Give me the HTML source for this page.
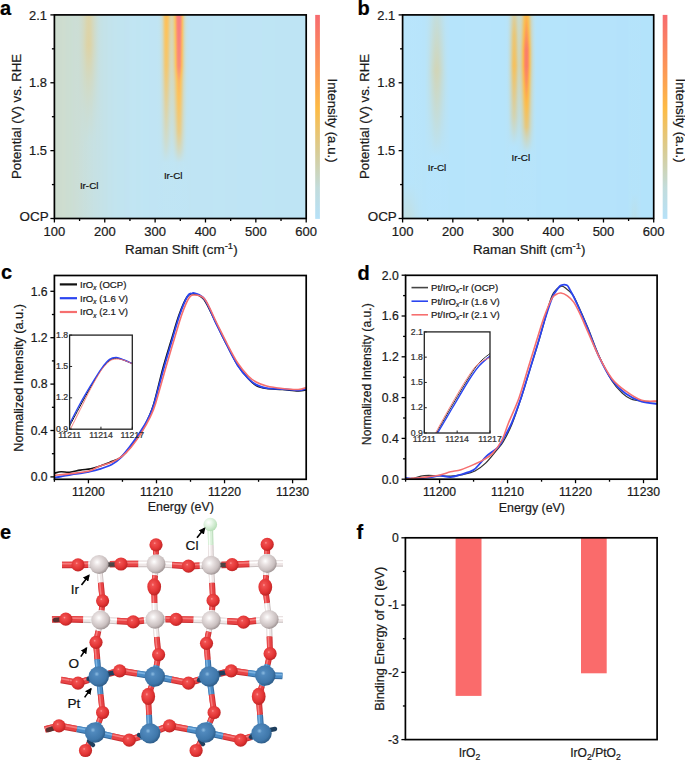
<!DOCTYPE html>
<html><head><meta charset="utf-8"><style>html,body{margin:0;padding:0;background:#fff;}svg{display:block;}text{stroke:#1a1a1a;stroke-width:0.22px;paint-order:stroke;}</style></head>
<body>
<svg width="685" height="761" viewBox="0 0 685 761" font-family="Liberation Sans, sans-serif">
<rect width="685" height="761" fill="#fff"/>
<defs><linearGradient id="g1" x1="0" y1="0" x2="0" y2="1"><stop offset="0.000" stop-color="#c5d9cf"/><stop offset="1.000" stop-color="#c4d9d1"/></linearGradient><linearGradient id="g2" x1="0" y1="0" x2="0" y2="1"><stop offset="0.000" stop-color="#c5d9cf"/><stop offset="1.000" stop-color="#c4dad1"/></linearGradient><linearGradient id="g3" x1="0" y1="0" x2="0" y2="1"><stop offset="0.000" stop-color="#c5d9ce"/><stop offset="1.000" stop-color="#c4dad2"/></linearGradient><linearGradient id="g4" x1="0" y1="0" x2="0" y2="1"><stop offset="0.000" stop-color="#c6d9cd"/><stop offset="0.375" stop-color="#c4d9d0"/><stop offset="1.000" stop-color="#c3dad3"/></linearGradient><linearGradient id="g5" x1="0" y1="0" x2="0" y2="1"><stop offset="0.000" stop-color="#c6d8ca"/><stop offset="0.250" stop-color="#c6d8cc"/><stop offset="0.725" stop-color="#c3dad4"/><stop offset="1.000" stop-color="#c3dad4"/></linearGradient><linearGradient id="g6" x1="0" y1="0" x2="0" y2="1"><stop offset="0.000" stop-color="#c8d7c7"/><stop offset="0.200" stop-color="#c7d7c8"/><stop offset="0.625" stop-color="#c3dad4"/><stop offset="1.000" stop-color="#c3dad4"/></linearGradient><linearGradient id="g7" x1="0" y1="0" x2="0" y2="1"><stop offset="0.000" stop-color="#c9d6c3"/><stop offset="0.175" stop-color="#c9d6c3"/><stop offset="0.575" stop-color="#c3dad4"/><stop offset="1.000" stop-color="#c2dad5"/></linearGradient><linearGradient id="g8" x1="0" y1="0" x2="0" y2="1"><stop offset="0.000" stop-color="#cbd5be"/><stop offset="0.175" stop-color="#cbd5be"/><stop offset="0.500" stop-color="#c4dad2"/><stop offset="0.675" stop-color="#c2dbd6"/><stop offset="1.000" stop-color="#c2dbd6"/></linearGradient><linearGradient id="g9" x1="0" y1="0" x2="0" y2="1"><stop offset="0.000" stop-color="#cdd4b9"/><stop offset="0.150" stop-color="#ced4b6"/><stop offset="0.475" stop-color="#c4d9d0"/><stop offset="0.650" stop-color="#c2dbd7"/><stop offset="1.000" stop-color="#c2dbd7"/></linearGradient><linearGradient id="g10" x1="0" y1="0" x2="0" y2="1"><stop offset="0.000" stop-color="#cfd3b3"/><stop offset="0.150" stop-color="#d1d2ae"/><stop offset="0.450" stop-color="#c5d9ce"/><stop offset="0.625" stop-color="#c1dbd8"/><stop offset="1.000" stop-color="#c1dbd8"/></linearGradient><linearGradient id="g11" x1="0" y1="0" x2="0" y2="1"><stop offset="0.000" stop-color="#d2d1ac"/><stop offset="0.150" stop-color="#d4d0a6"/><stop offset="0.325" stop-color="#cbd6c0"/><stop offset="0.475" stop-color="#c5d9cf"/><stop offset="0.625" stop-color="#c1dbd8"/><stop offset="1.000" stop-color="#c1dbd8"/></linearGradient><linearGradient id="g12" x1="0" y1="0" x2="0" y2="1"><stop offset="0.000" stop-color="#d4d0a6"/><stop offset="0.150" stop-color="#d7ce9f"/><stop offset="0.325" stop-color="#cbd5bd"/><stop offset="0.450" stop-color="#c6d9cc"/><stop offset="0.625" stop-color="#c1dbd9"/><stop offset="1.000" stop-color="#c1dbd9"/></linearGradient><linearGradient id="g13" x1="0" y1="0" x2="0" y2="1"><stop offset="0.000" stop-color="#d6cfa2"/><stop offset="0.150" stop-color="#d9cd9b"/><stop offset="0.325" stop-color="#ccd5bc"/><stop offset="0.450" stop-color="#c6d8cc"/><stop offset="0.625" stop-color="#c1dcda"/><stop offset="1.000" stop-color="#c1dcda"/></linearGradient><linearGradient id="g14" x1="0" y1="0" x2="0" y2="1"><stop offset="0.000" stop-color="#d6cfa0"/><stop offset="0.150" stop-color="#d9cd99"/><stop offset="0.300" stop-color="#cdd4b8"/><stop offset="0.425" stop-color="#c7d8ca"/><stop offset="0.600" stop-color="#c0dcdb"/><stop offset="1.000" stop-color="#c0dcdb"/></linearGradient><linearGradient id="g15" x1="0" y1="0" x2="0" y2="1"><stop offset="0.000" stop-color="#d6cfa2"/><stop offset="0.150" stop-color="#d8cd9b"/><stop offset="0.325" stop-color="#ccd5bd"/><stop offset="0.450" stop-color="#c5d9ce"/><stop offset="0.600" stop-color="#c0dcdc"/><stop offset="1.000" stop-color="#c0dcdc"/></linearGradient><linearGradient id="g16" x1="0" y1="0" x2="0" y2="1"><stop offset="0.000" stop-color="#d4d0a7"/><stop offset="0.150" stop-color="#d6cfa0"/><stop offset="0.300" stop-color="#ccd5bc"/><stop offset="0.450" stop-color="#c5d9cf"/><stop offset="0.625" stop-color="#c0dcdc"/><stop offset="1.000" stop-color="#c0dcdc"/></linearGradient><linearGradient id="g17" x1="0" y1="0" x2="0" y2="1"><stop offset="0.000" stop-color="#d1d2af"/><stop offset="0.150" stop-color="#d3d0a8"/><stop offset="0.375" stop-color="#c7d8c9"/><stop offset="0.625" stop-color="#bfdcdd"/><stop offset="1.000" stop-color="#bfdcdd"/></linearGradient><linearGradient id="g18" x1="0" y1="0" x2="0" y2="1"><stop offset="0.000" stop-color="#ced4b7"/><stop offset="0.150" stop-color="#d0d3b3"/><stop offset="0.450" stop-color="#c3dad3"/><stop offset="0.625" stop-color="#bfdcde"/><stop offset="1.000" stop-color="#bfdcde"/></linearGradient><linearGradient id="g19" x1="0" y1="0" x2="0" y2="1"><stop offset="0.000" stop-color="#cbd5be"/><stop offset="0.150" stop-color="#cdd4ba"/><stop offset="0.450" stop-color="#c2dbd6"/><stop offset="0.625" stop-color="#bfdddf"/><stop offset="1.000" stop-color="#bfdddf"/></linearGradient><linearGradient id="g20" x1="0" y1="0" x2="0" y2="1"><stop offset="0.000" stop-color="#c9d7c5"/><stop offset="0.175" stop-color="#c9d7c4"/><stop offset="0.475" stop-color="#c1dbd9"/><stop offset="0.650" stop-color="#bedde0"/><stop offset="1.000" stop-color="#bedde0"/></linearGradient><linearGradient id="g21" x1="0" y1="0" x2="0" y2="1"><stop offset="0.000" stop-color="#c6d8cb"/><stop offset="0.175" stop-color="#c6d8cb"/><stop offset="0.525" stop-color="#bfdcdd"/><stop offset="0.750" stop-color="#bedde0"/><stop offset="1.000" stop-color="#bedde0"/></linearGradient><linearGradient id="g22" x1="0" y1="0" x2="0" y2="1"><stop offset="0.000" stop-color="#c4dad1"/><stop offset="0.200" stop-color="#c4dad2"/><stop offset="0.600" stop-color="#bedde1"/><stop offset="1.000" stop-color="#bedde1"/></linearGradient><linearGradient id="g23" x1="0" y1="0" x2="0" y2="1"><stop offset="0.000" stop-color="#c2dbd6"/><stop offset="0.225" stop-color="#c1dbd8"/><stop offset="0.650" stop-color="#bedde2"/><stop offset="1.000" stop-color="#bedde2"/></linearGradient><linearGradient id="g24" x1="0" y1="0" x2="0" y2="1"><stop offset="0.000" stop-color="#c0dcdb"/><stop offset="0.275" stop-color="#c0dcdd"/><stop offset="0.750" stop-color="#bddde2"/><stop offset="1.000" stop-color="#bddde2"/></linearGradient><linearGradient id="g25" x1="0" y1="0" x2="0" y2="1"><stop offset="0.000" stop-color="#bfdcde"/><stop offset="0.975" stop-color="#bddee3"/><stop offset="1.000" stop-color="#bddee3"/></linearGradient><linearGradient id="g26" x1="0" y1="0" x2="0" y2="1"><stop offset="0.000" stop-color="#bedde1"/><stop offset="1.000" stop-color="#bddee4"/></linearGradient><linearGradient id="g27" x1="0" y1="0" x2="0" y2="1"><stop offset="0.000" stop-color="#bddde2"/><stop offset="1.000" stop-color="#bddee4"/></linearGradient><linearGradient id="g28" x1="0" y1="0" x2="0" y2="1"><stop offset="0.000" stop-color="#b8e1f1"/><stop offset="1.000" stop-color="#b7e1f2"/></linearGradient><linearGradient id="g29" x1="0" y1="0" x2="0" y2="1"><stop offset="0.000" stop-color="#b9e0ee"/><stop offset="1.000" stop-color="#b7e1f3"/></linearGradient><linearGradient id="g30" x1="0" y1="0" x2="0" y2="1"><stop offset="0.000" stop-color="#bbdfe9"/><stop offset="0.925" stop-color="#b7e1f3"/><stop offset="1.000" stop-color="#b7e1f3"/></linearGradient><linearGradient id="g31" x1="0" y1="0" x2="0" y2="1"><stop offset="0.000" stop-color="#bfdddf"/><stop offset="0.500" stop-color="#bbdfe9"/><stop offset="0.775" stop-color="#b7e1f3"/><stop offset="1.000" stop-color="#b7e1f3"/></linearGradient><linearGradient id="g32" x1="0" y1="0" x2="0" y2="1"><stop offset="0.000" stop-color="#c6d9cd"/><stop offset="0.325" stop-color="#c2dbd6"/><stop offset="0.650" stop-color="#badfea"/><stop offset="0.750" stop-color="#b7e1f3"/><stop offset="1.000" stop-color="#b7e1f3"/></linearGradient><linearGradient id="g33" x1="0" y1="0" x2="0" y2="1"><stop offset="0.000" stop-color="#d0d3b3"/><stop offset="0.275" stop-color="#cbd5bf"/><stop offset="0.625" stop-color="#bedde0"/><stop offset="0.725" stop-color="#b8e1f2"/><stop offset="1.000" stop-color="#b7e1f3"/></linearGradient><linearGradient id="g34" x1="0" y1="0" x2="0" y2="1"><stop offset="0.000" stop-color="#e1c885"/><stop offset="0.250" stop-color="#d9cd9a"/><stop offset="0.425" stop-color="#cdd4ba"/><stop offset="0.600" stop-color="#c3dad3"/><stop offset="0.700" stop-color="#badfea"/><stop offset="0.725" stop-color="#b8e1f1"/><stop offset="1.000" stop-color="#b7e1f3"/></linearGradient><linearGradient id="g35" x1="0" y1="0" x2="0" y2="1"><stop offset="0.000" stop-color="#f3bf5b"/><stop offset="0.250" stop-color="#e7c575"/><stop offset="0.500" stop-color="#cfd3b5"/><stop offset="0.600" stop-color="#c7d8c9"/><stop offset="0.675" stop-color="#bfddde"/><stop offset="0.725" stop-color="#b8e1f1"/><stop offset="1.000" stop-color="#b7e1f3"/></linearGradient><linearGradient id="g36" x1="0" y1="0" x2="0" y2="1"><stop offset="0.000" stop-color="#fdb747"/><stop offset="0.050" stop-color="#fdbb46"/><stop offset="0.250" stop-color="#f2c05e"/><stop offset="0.550" stop-color="#ced3b6"/><stop offset="0.650" stop-color="#c4dad2"/><stop offset="0.725" stop-color="#b8e1f1"/><stop offset="1.000" stop-color="#b7e1f3"/></linearGradient><linearGradient id="g37" x1="0" y1="0" x2="0" y2="1"><stop offset="0.000" stop-color="#fdb448"/><stop offset="0.075" stop-color="#fdbb45"/><stop offset="0.250" stop-color="#f3c05b"/><stop offset="0.650" stop-color="#c4dad2"/><stop offset="0.725" stop-color="#b8e1f1"/><stop offset="1.000" stop-color="#b7e1f3"/></linearGradient><linearGradient id="g38" x1="0" y1="0" x2="0" y2="1"><stop offset="0.000" stop-color="#fabc4c"/><stop offset="0.250" stop-color="#ecc36b"/><stop offset="0.525" stop-color="#ced4b6"/><stop offset="0.625" stop-color="#c5d9cf"/><stop offset="0.725" stop-color="#b8e1f1"/><stop offset="1.000" stop-color="#b7e1f3"/></linearGradient><linearGradient id="g39" x1="0" y1="0" x2="0" y2="1"><stop offset="0.000" stop-color="#edc269"/><stop offset="0.250" stop-color="#e1c885"/><stop offset="0.475" stop-color="#cdd4b8"/><stop offset="0.600" stop-color="#c4d9d0"/><stop offset="0.725" stop-color="#b8e1f1"/><stop offset="1.000" stop-color="#b7e1f3"/></linearGradient><linearGradient id="g40" x1="0" y1="0" x2="0" y2="1"><stop offset="0.000" stop-color="#e0c987"/><stop offset="0.275" stop-color="#d5d0a5"/><stop offset="0.625" stop-color="#c0dcdd"/><stop offset="0.725" stop-color="#b8e1f2"/><stop offset="1.000" stop-color="#b7e1f3"/></linearGradient><linearGradient id="g41" x1="0" y1="0" x2="0" y2="1"><stop offset="0.000" stop-color="#d8ce9c"/><stop offset="0.450" stop-color="#c7d8c9"/><stop offset="0.650" stop-color="#bcdee5"/><stop offset="0.725" stop-color="#b7e1f2"/><stop offset="1.000" stop-color="#b7e1f3"/></linearGradient><linearGradient id="g42" x1="0" y1="0" x2="0" y2="1"><stop offset="0.000" stop-color="#d6cfa2"/><stop offset="0.450" stop-color="#c6d8cc"/><stop offset="0.675" stop-color="#badfeb"/><stop offset="0.725" stop-color="#b7e1f2"/><stop offset="1.000" stop-color="#b7e1f3"/></linearGradient><linearGradient id="g43" x1="0" y1="0" x2="0" y2="1"><stop offset="0.000" stop-color="#d9cd98"/><stop offset="0.250" stop-color="#d0d2b1"/><stop offset="0.350" stop-color="#cbd5be"/><stop offset="0.600" stop-color="#c0dcdc"/><stop offset="0.725" stop-color="#b7e1f2"/><stop offset="1.000" stop-color="#b7e1f3"/></linearGradient><linearGradient id="g44" x1="0" y1="0" x2="0" y2="1"><stop offset="0.000" stop-color="#e3c77e"/><stop offset="0.250" stop-color="#d9cd9a"/><stop offset="0.325" stop-color="#d1d2b0"/><stop offset="0.600" stop-color="#c3dad5"/><stop offset="0.725" stop-color="#b8e1f2"/><stop offset="1.000" stop-color="#b7e1f3"/></linearGradient><linearGradient id="g45" x1="0" y1="0" x2="0" y2="1"><stop offset="0.000" stop-color="#f5bf56"/><stop offset="0.250" stop-color="#e7c576"/><stop offset="0.325" stop-color="#dacc96"/><stop offset="0.525" stop-color="#ccd5bb"/><stop offset="0.600" stop-color="#c7d8c9"/><stop offset="0.675" stop-color="#bfdddf"/><stop offset="0.725" stop-color="#b8e1f1"/><stop offset="1.000" stop-color="#b7e1f3"/></linearGradient><linearGradient id="g46" x1="0" y1="0" x2="0" y2="1"><stop offset="0.000" stop-color="#fca450"/><stop offset="0.225" stop-color="#fcbb46"/><stop offset="0.250" stop-color="#fbbc4a"/><stop offset="0.325" stop-color="#e8c575"/><stop offset="0.500" stop-color="#d7ce9e"/><stop offset="0.600" stop-color="#ccd5bb"/><stop offset="0.650" stop-color="#c6d8cb"/><stop offset="0.725" stop-color="#b8e1f0"/><stop offset="0.875" stop-color="#b7e1f3"/><stop offset="1.000" stop-color="#b7e1f3"/></linearGradient><linearGradient id="g47" x1="0" y1="0" x2="0" y2="1"><stop offset="0.000" stop-color="#fa8261"/><stop offset="0.250" stop-color="#fc9e53"/><stop offset="0.300" stop-color="#fdb946"/><stop offset="0.325" stop-color="#f6be54"/><stop offset="0.575" stop-color="#d9cd99"/><stop offset="0.625" stop-color="#ced3b6"/><stop offset="0.650" stop-color="#cad6c0"/><stop offset="0.725" stop-color="#b8e0f0"/><stop offset="0.775" stop-color="#b7e1f3"/><stop offset="1.000" stop-color="#b7e1f3"/></linearGradient><linearGradient id="g48" x1="0" y1="0" x2="0" y2="1"><stop offset="0.000" stop-color="#f76d6e"/><stop offset="0.250" stop-color="#fa855f"/><stop offset="0.325" stop-color="#fdb249"/><stop offset="0.375" stop-color="#fcbb47"/><stop offset="0.575" stop-color="#e1c884"/><stop offset="0.675" stop-color="#c8d7c7"/><stop offset="0.725" stop-color="#b9e0ef"/><stop offset="0.775" stop-color="#b7e1f3"/><stop offset="1.000" stop-color="#b7e1f3"/></linearGradient><linearGradient id="g49" x1="0" y1="0" x2="0" y2="1"><stop offset="0.000" stop-color="#f76b6f"/><stop offset="0.100" stop-color="#f76c6e"/><stop offset="0.250" stop-color="#f97b65"/><stop offset="0.275" stop-color="#fb885d"/><stop offset="0.325" stop-color="#fca94e"/><stop offset="0.400" stop-color="#fdb946"/><stop offset="0.475" stop-color="#f4bf59"/><stop offset="0.575" stop-color="#e6c679"/><stop offset="0.675" stop-color="#c9d6c4"/><stop offset="0.725" stop-color="#b9e0ef"/><stop offset="0.750" stop-color="#b7e1f3"/><stop offset="1.000" stop-color="#b7e1f3"/></linearGradient><linearGradient id="g50" x1="0" y1="0" x2="0" y2="1"><stop offset="0.000" stop-color="#f76b6f"/><stop offset="0.075" stop-color="#f76e6d"/><stop offset="0.250" stop-color="#f97e63"/><stop offset="0.275" stop-color="#fb8b5b"/><stop offset="0.325" stop-color="#fcac4c"/><stop offset="0.400" stop-color="#fcbb47"/><stop offset="0.575" stop-color="#e5c67b"/><stop offset="0.675" stop-color="#c9d7c4"/><stop offset="0.725" stop-color="#b9e0ef"/><stop offset="0.750" stop-color="#b7e1f3"/><stop offset="1.000" stop-color="#b7e1f3"/></linearGradient><linearGradient id="g51" x1="0" y1="0" x2="0" y2="1"><stop offset="0.000" stop-color="#f97867"/><stop offset="0.250" stop-color="#fb8f5a"/><stop offset="0.300" stop-color="#fdaf4b"/><stop offset="0.325" stop-color="#fcbc48"/><stop offset="0.575" stop-color="#dfca8a"/><stop offset="0.675" stop-color="#c7d8c8"/><stop offset="0.725" stop-color="#b9e0ef"/><stop offset="0.775" stop-color="#b7e1f3"/><stop offset="1.000" stop-color="#b7e1f3"/></linearGradient><linearGradient id="g52" x1="0" y1="0" x2="0" y2="1"><stop offset="0.000" stop-color="#fc9955"/><stop offset="0.250" stop-color="#fdb14a"/><stop offset="0.275" stop-color="#fbbc4a"/><stop offset="0.325" stop-color="#ecc36c"/><stop offset="0.575" stop-color="#d6cfa3"/><stop offset="0.625" stop-color="#cdd4ba"/><stop offset="0.650" stop-color="#c9d6c3"/><stop offset="0.725" stop-color="#b8e0f0"/><stop offset="0.775" stop-color="#b7e1f3"/><stop offset="1.000" stop-color="#b7e1f3"/></linearGradient><linearGradient id="g53" x1="0" y1="0" x2="0" y2="1"><stop offset="0.000" stop-color="#f6be54"/><stop offset="0.250" stop-color="#ebc36e"/><stop offset="0.325" stop-color="#dacc96"/><stop offset="0.550" stop-color="#ced4b8"/><stop offset="0.600" stop-color="#cad6c2"/><stop offset="0.650" stop-color="#c5d9cf"/><stop offset="0.725" stop-color="#b8e1f0"/><stop offset="0.900" stop-color="#b7e1f3"/><stop offset="1.000" stop-color="#b7e1f3"/></linearGradient><linearGradient id="g54" x1="0" y1="0" x2="0" y2="1"><stop offset="0.000" stop-color="#dccb90"/><stop offset="0.250" stop-color="#d6cfa2"/><stop offset="0.300" stop-color="#cfd3b5"/><stop offset="0.350" stop-color="#ccd5bc"/><stop offset="0.575" stop-color="#c5d9cd"/><stop offset="0.675" stop-color="#bedde1"/><stop offset="0.725" stop-color="#b8e1f1"/><stop offset="1.000" stop-color="#b7e1f3"/></linearGradient><linearGradient id="g55" x1="0" y1="0" x2="0" y2="1"><stop offset="0.000" stop-color="#ccd5bd"/><stop offset="0.250" stop-color="#c9d7c5"/><stop offset="0.350" stop-color="#c4dad1"/><stop offset="0.600" stop-color="#bfddde"/><stop offset="0.700" stop-color="#b9e0ed"/><stop offset="0.750" stop-color="#b7e1f3"/><stop offset="1.000" stop-color="#b7e1f3"/></linearGradient><linearGradient id="g56" x1="0" y1="0" x2="0" y2="1"><stop offset="0.000" stop-color="#c3dad5"/><stop offset="0.275" stop-color="#c0dcdb"/><stop offset="0.450" stop-color="#bddde2"/><stop offset="0.650" stop-color="#badfea"/><stop offset="0.750" stop-color="#b7e1f3"/><stop offset="1.000" stop-color="#b7e1f3"/></linearGradient><linearGradient id="g57" x1="0" y1="0" x2="0" y2="1"><stop offset="0.000" stop-color="#bddee3"/><stop offset="0.625" stop-color="#b9e0ee"/><stop offset="0.800" stop-color="#b7e1f3"/><stop offset="1.000" stop-color="#b7e1f3"/></linearGradient><linearGradient id="g58" x1="0" y1="0" x2="0" y2="1"><stop offset="0.000" stop-color="#badfeb"/><stop offset="1.000" stop-color="#b7e1f3"/></linearGradient><linearGradient id="g59" x1="0" y1="0" x2="0" y2="1"><stop offset="0.000" stop-color="#b8e0f0"/><stop offset="1.000" stop-color="#b7e1f3"/></linearGradient></defs>
<rect x="54.40" y="14.90" width="1.30" height="203.60" fill="#c7d8c8"/><rect x="55.40" y="14.90" width="1.30" height="203.60" fill="#c7d8c8"/><rect x="56.40" y="14.90" width="1.30" height="203.60" fill="#c7d8c8"/><rect x="57.40" y="14.90" width="1.30" height="203.60" fill="#c7d8c8"/><rect x="58.40" y="14.90" width="1.30" height="203.60" fill="#c7d8c9"/><rect x="59.40" y="14.90" width="1.30" height="203.60" fill="#c7d8c9"/><rect x="60.40" y="14.90" width="1.30" height="203.60" fill="#c7d8c9"/><rect x="61.39" y="14.90" width="1.30" height="203.60" fill="#c7d8c9"/><rect x="62.39" y="14.90" width="1.30" height="203.60" fill="#c7d8ca"/><rect x="63.39" y="14.90" width="1.30" height="203.60" fill="#c7d8ca"/><rect x="64.39" y="14.90" width="1.30" height="203.60" fill="#c7d8ca"/><rect x="65.39" y="14.90" width="1.30" height="203.60" fill="#c6d8cb"/><rect x="66.39" y="14.90" width="1.30" height="203.60" fill="#c6d8cb"/><rect x="67.39" y="14.90" width="1.30" height="203.60" fill="#c6d8cc"/><rect x="68.39" y="14.90" width="1.30" height="203.60" fill="#c6d8cc"/><rect x="69.39" y="14.90" width="1.30" height="203.60" fill="#c6d9cd"/><rect x="70.39" y="14.90" width="1.30" height="203.60" fill="#c5d9cd"/><rect x="71.39" y="14.90" width="1.30" height="203.60" fill="#c5d9ce"/><rect x="72.39" y="14.90" width="1.30" height="203.60" fill="#c5d9ce"/><rect x="73.38" y="14.90" width="1.30" height="203.60" fill="#c5d9cf"/><rect x="74.38" y="14.90" width="1.30" height="203.60" fill="#c5d9cf"/><rect x="75.38" y="14.90" width="1.30" height="203.60" fill="url(#g1)"/><rect x="76.38" y="14.90" width="1.30" height="203.60" fill="url(#g2)"/><rect x="77.38" y="14.90" width="1.30" height="203.60" fill="url(#g3)"/><rect x="78.38" y="14.90" width="1.30" height="203.60" fill="url(#g4)"/><rect x="79.38" y="14.90" width="1.30" height="203.60" fill="url(#g5)"/><rect x="80.38" y="14.90" width="1.30" height="203.60" fill="url(#g6)"/><rect x="81.38" y="14.90" width="1.30" height="203.60" fill="url(#g7)"/><rect x="82.38" y="14.90" width="1.30" height="203.60" fill="url(#g8)"/><rect x="83.38" y="14.90" width="1.30" height="203.60" fill="url(#g9)"/><rect x="84.38" y="14.90" width="1.30" height="203.60" fill="url(#g10)"/><rect x="85.38" y="14.90" width="1.30" height="203.60" fill="url(#g11)"/><rect x="86.37" y="14.90" width="1.30" height="203.60" fill="url(#g12)"/><rect x="87.37" y="14.90" width="1.30" height="203.60" fill="url(#g13)"/><rect x="88.37" y="14.90" width="1.30" height="203.60" fill="url(#g14)"/><rect x="89.37" y="14.90" width="1.30" height="203.60" fill="url(#g15)"/><rect x="90.37" y="14.90" width="1.30" height="203.60" fill="url(#g16)"/><rect x="91.37" y="14.90" width="1.30" height="203.60" fill="url(#g17)"/><rect x="92.37" y="14.90" width="1.30" height="203.60" fill="url(#g18)"/><rect x="93.37" y="14.90" width="1.30" height="203.60" fill="url(#g19)"/><rect x="94.37" y="14.90" width="1.30" height="203.60" fill="url(#g20)"/><rect x="95.37" y="14.90" width="1.30" height="203.60" fill="url(#g21)"/><rect x="96.37" y="14.90" width="1.30" height="203.60" fill="url(#g22)"/><rect x="97.37" y="14.90" width="1.30" height="203.60" fill="url(#g23)"/><rect x="98.37" y="14.90" width="1.30" height="203.60" fill="url(#g24)"/><rect x="99.36" y="14.90" width="1.30" height="203.60" fill="url(#g25)"/><rect x="100.36" y="14.90" width="1.30" height="203.60" fill="url(#g26)"/><rect x="101.36" y="14.90" width="1.30" height="203.60" fill="url(#g27)"/><rect x="102.36" y="14.90" width="1.30" height="203.60" fill="#bddee4"/><rect x="103.36" y="14.90" width="1.30" height="203.60" fill="#bcdee5"/><rect x="104.36" y="14.90" width="1.30" height="203.60" fill="#bcdee6"/><rect x="105.36" y="14.90" width="1.30" height="203.60" fill="#bcdee7"/><rect x="106.36" y="14.90" width="1.30" height="203.60" fill="#bbdfe7"/><rect x="107.36" y="14.90" width="1.30" height="203.60" fill="#bbdfe8"/><rect x="108.36" y="14.90" width="1.30" height="203.60" fill="#bbdfe9"/><rect x="109.36" y="14.90" width="1.30" height="203.60" fill="#bbdfe9"/><rect x="110.36" y="14.90" width="1.30" height="203.60" fill="#bbdfea"/><rect x="111.35" y="14.90" width="1.30" height="203.60" fill="#badfea"/><rect x="112.35" y="14.90" width="1.30" height="203.60" fill="#badfeb"/><rect x="113.35" y="14.90" width="1.30" height="203.60" fill="#badfeb"/><rect x="114.35" y="14.90" width="1.30" height="203.60" fill="#bae0ec"/><rect x="115.35" y="14.90" width="1.30" height="203.60" fill="#bae0ec"/><rect x="116.35" y="14.90" width="1.30" height="203.60" fill="#bae0ec"/><rect x="117.35" y="14.90" width="1.30" height="203.60" fill="#b9e0ed"/><rect x="118.35" y="14.90" width="1.30" height="203.60" fill="#b9e0ed"/><rect x="119.35" y="14.90" width="1.30" height="203.60" fill="#b9e0ed"/><rect x="120.35" y="14.90" width="1.30" height="203.60" fill="#b9e0ee"/><rect x="121.35" y="14.90" width="1.30" height="203.60" fill="#b9e0ee"/><rect x="122.35" y="14.90" width="1.30" height="203.60" fill="#b9e0ee"/><rect x="123.35" y="14.90" width="1.30" height="203.60" fill="#b9e0ef"/><rect x="124.34" y="14.90" width="1.30" height="203.60" fill="#b9e0ef"/><rect x="125.34" y="14.90" width="1.30" height="203.60" fill="#b9e0ef"/><rect x="126.34" y="14.90" width="1.30" height="203.60" fill="#b8e0ef"/><rect x="127.34" y="14.90" width="1.30" height="203.60" fill="#b8e0f0"/><rect x="128.34" y="14.90" width="1.30" height="203.60" fill="#b8e0f0"/><rect x="129.34" y="14.90" width="1.30" height="203.60" fill="#b8e1f0"/><rect x="130.34" y="14.90" width="1.30" height="203.60" fill="#b8e1f0"/><rect x="131.34" y="14.90" width="1.30" height="203.60" fill="#b8e1f0"/><rect x="132.34" y="14.90" width="1.30" height="203.60" fill="#b8e1f1"/><rect x="133.34" y="14.90" width="1.30" height="203.60" fill="#b8e1f1"/><rect x="134.34" y="14.90" width="1.30" height="203.60" fill="#b8e1f1"/><rect x="135.34" y="14.90" width="1.30" height="203.60" fill="#b8e1f1"/><rect x="136.33" y="14.90" width="1.30" height="203.60" fill="#b8e1f1"/><rect x="137.33" y="14.90" width="1.30" height="203.60" fill="#b8e1f1"/><rect x="138.33" y="14.90" width="1.30" height="203.60" fill="#b8e1f1"/><rect x="139.33" y="14.90" width="1.30" height="203.60" fill="#b8e1f1"/><rect x="140.33" y="14.90" width="1.30" height="203.60" fill="#b8e1f2"/><rect x="141.33" y="14.90" width="1.30" height="203.60" fill="#b8e1f2"/><rect x="142.33" y="14.90" width="1.30" height="203.60" fill="#b8e1f2"/><rect x="143.33" y="14.90" width="1.30" height="203.60" fill="#b7e1f2"/><rect x="144.33" y="14.90" width="1.30" height="203.60" fill="#b7e1f2"/><rect x="145.33" y="14.90" width="1.30" height="203.60" fill="#b7e1f2"/><rect x="146.33" y="14.90" width="1.30" height="203.60" fill="#b7e1f2"/><rect x="147.33" y="14.90" width="1.30" height="203.60" fill="#b7e1f2"/><rect x="148.33" y="14.90" width="1.30" height="203.60" fill="#b7e1f2"/><rect x="149.32" y="14.90" width="1.30" height="203.60" fill="#b7e1f2"/><rect x="150.32" y="14.90" width="1.30" height="203.60" fill="#b7e1f2"/><rect x="151.32" y="14.90" width="1.30" height="203.60" fill="#b7e1f2"/><rect x="152.32" y="14.90" width="1.30" height="203.60" fill="#b7e1f2"/><rect x="153.32" y="14.90" width="1.30" height="203.60" fill="#b7e1f2"/><rect x="154.32" y="14.90" width="1.30" height="203.60" fill="#b7e1f2"/><rect x="155.32" y="14.90" width="1.30" height="203.60" fill="#b7e1f2"/><rect x="156.32" y="14.90" width="1.30" height="203.60" fill="#b8e1f2"/><rect x="157.32" y="14.90" width="1.30" height="203.60" fill="url(#g28)"/><rect x="158.32" y="14.90" width="1.30" height="203.60" fill="url(#g29)"/><rect x="159.32" y="14.90" width="1.30" height="203.60" fill="url(#g30)"/><rect x="160.32" y="14.90" width="1.30" height="203.60" fill="url(#g31)"/><rect x="161.32" y="14.90" width="1.30" height="203.60" fill="url(#g32)"/><rect x="162.31" y="14.90" width="1.30" height="203.60" fill="url(#g33)"/><rect x="163.31" y="14.90" width="1.30" height="203.60" fill="url(#g34)"/><rect x="164.31" y="14.90" width="1.30" height="203.60" fill="url(#g35)"/><rect x="165.31" y="14.90" width="1.30" height="203.60" fill="url(#g36)"/><rect x="166.31" y="14.90" width="1.30" height="203.60" fill="url(#g37)"/><rect x="167.31" y="14.90" width="1.30" height="203.60" fill="url(#g38)"/><rect x="168.31" y="14.90" width="1.30" height="203.60" fill="url(#g39)"/><rect x="169.31" y="14.90" width="1.30" height="203.60" fill="url(#g40)"/><rect x="170.31" y="14.90" width="1.30" height="203.60" fill="url(#g41)"/><rect x="171.31" y="14.90" width="1.30" height="203.60" fill="url(#g42)"/><rect x="172.31" y="14.90" width="1.30" height="203.60" fill="url(#g43)"/><rect x="173.31" y="14.90" width="1.30" height="203.60" fill="url(#g44)"/><rect x="174.30" y="14.90" width="1.30" height="203.60" fill="url(#g45)"/><rect x="175.30" y="14.90" width="1.30" height="203.60" fill="url(#g46)"/><rect x="176.30" y="14.90" width="1.30" height="203.60" fill="url(#g47)"/><rect x="177.30" y="14.90" width="1.30" height="203.60" fill="url(#g48)"/><rect x="178.30" y="14.90" width="1.30" height="203.60" fill="url(#g49)"/><rect x="179.30" y="14.90" width="1.30" height="203.60" fill="url(#g50)"/><rect x="180.30" y="14.90" width="1.30" height="203.60" fill="url(#g51)"/><rect x="181.30" y="14.90" width="1.30" height="203.60" fill="url(#g52)"/><rect x="182.30" y="14.90" width="1.30" height="203.60" fill="url(#g53)"/><rect x="183.30" y="14.90" width="1.30" height="203.60" fill="url(#g54)"/><rect x="184.30" y="14.90" width="1.30" height="203.60" fill="url(#g55)"/><rect x="185.30" y="14.90" width="1.30" height="203.60" fill="url(#g56)"/><rect x="186.30" y="14.90" width="1.30" height="203.60" fill="url(#g57)"/><rect x="187.29" y="14.90" width="1.30" height="203.60" fill="url(#g58)"/><rect x="188.29" y="14.90" width="1.30" height="203.60" fill="url(#g59)"/><rect x="189.29" y="14.90" width="1.30" height="203.60" fill="#b8e1f1"/><rect x="190.29" y="14.90" width="1.30" height="203.60" fill="#b7e1f2"/><rect x="191.29" y="14.90" width="1.30" height="203.60" fill="#b7e1f3"/><rect x="192.29" y="14.90" width="1.30" height="203.60" fill="#b7e1f3"/><rect x="193.29" y="14.90" width="1.30" height="203.60" fill="#b7e1f3"/><rect x="194.29" y="14.90" width="1.30" height="203.60" fill="#b7e1f3"/><rect x="195.29" y="14.90" width="1.30" height="203.60" fill="#b7e1f3"/><rect x="196.29" y="14.90" width="1.30" height="203.60" fill="#b7e1f3"/><rect x="197.29" y="14.90" width="1.30" height="203.60" fill="#b7e1f3"/><rect x="198.29" y="14.90" width="1.30" height="203.60" fill="#b7e1f3"/><rect x="199.28" y="14.90" width="1.30" height="203.60" fill="#b7e1f3"/><rect x="200.28" y="14.90" width="1.30" height="203.60" fill="#b7e1f3"/><rect x="201.28" y="14.90" width="1.30" height="203.60" fill="#b7e1f3"/><rect x="202.28" y="14.90" width="1.30" height="203.60" fill="#b7e1f3"/><rect x="203.28" y="14.90" width="1.30" height="203.60" fill="#b7e1f3"/><rect x="204.28" y="14.90" width="1.30" height="203.60" fill="#b7e1f3"/><rect x="205.28" y="14.90" width="1.30" height="203.60" fill="#b7e1f3"/><rect x="206.28" y="14.90" width="1.30" height="203.60" fill="#b7e1f3"/><rect x="207.28" y="14.90" width="1.30" height="203.60" fill="#b7e1f3"/><rect x="208.28" y="14.90" width="1.30" height="203.60" fill="#b7e1f3"/><rect x="209.28" y="14.90" width="1.30" height="203.60" fill="#b7e1f3"/><rect x="210.28" y="14.90" width="1.30" height="203.60" fill="#b7e1f3"/><rect x="211.28" y="14.90" width="1.30" height="203.60" fill="#b7e1f3"/><rect x="212.27" y="14.90" width="1.30" height="203.60" fill="#b7e1f3"/><rect x="213.27" y="14.90" width="1.30" height="203.60" fill="#b7e1f3"/><rect x="214.27" y="14.90" width="1.30" height="203.60" fill="#b7e1f3"/><rect x="215.27" y="14.90" width="1.30" height="203.60" fill="#b7e1f3"/><rect x="216.27" y="14.90" width="1.30" height="203.60" fill="#b7e1f3"/><rect x="217.27" y="14.90" width="1.30" height="203.60" fill="#b7e1f3"/><rect x="218.27" y="14.90" width="1.30" height="203.60" fill="#b7e1f3"/><rect x="219.27" y="14.90" width="1.30" height="203.60" fill="#b7e1f3"/><rect x="220.27" y="14.90" width="1.30" height="203.60" fill="#b7e1f3"/><rect x="221.27" y="14.90" width="1.30" height="203.60" fill="#b7e1f3"/><rect x="222.27" y="14.90" width="1.30" height="203.60" fill="#b7e1f3"/><rect x="223.27" y="14.90" width="1.30" height="203.60" fill="#b7e1f3"/><rect x="224.27" y="14.90" width="1.30" height="203.60" fill="#b7e1f3"/><rect x="225.26" y="14.90" width="1.30" height="203.60" fill="#b7e1f3"/><rect x="226.26" y="14.90" width="1.30" height="203.60" fill="#b7e1f3"/><rect x="227.26" y="14.90" width="1.30" height="203.60" fill="#b7e1f3"/><rect x="228.26" y="14.90" width="1.30" height="203.60" fill="#b7e1f3"/><rect x="229.26" y="14.90" width="1.30" height="203.60" fill="#b7e1f3"/><rect x="230.26" y="14.90" width="1.30" height="203.60" fill="#b7e1f3"/><rect x="231.26" y="14.90" width="1.30" height="203.60" fill="#b7e1f3"/><rect x="232.26" y="14.90" width="1.30" height="203.60" fill="#b7e1f3"/><rect x="233.26" y="14.90" width="1.30" height="203.60" fill="#b7e1f3"/><rect x="234.26" y="14.90" width="1.30" height="203.60" fill="#b7e1f3"/><rect x="235.26" y="14.90" width="1.30" height="203.60" fill="#b7e1f3"/><rect x="236.26" y="14.90" width="1.30" height="203.60" fill="#b7e1f3"/><rect x="237.25" y="14.90" width="1.30" height="203.60" fill="#b7e1f3"/><rect x="238.25" y="14.90" width="1.30" height="203.60" fill="#b7e1f3"/><rect x="239.25" y="14.90" width="1.30" height="203.60" fill="#b7e1f3"/><rect x="240.25" y="14.90" width="1.30" height="203.60" fill="#b7e1f3"/><rect x="241.25" y="14.90" width="1.30" height="203.60" fill="#b7e1f3"/><rect x="242.25" y="14.90" width="1.30" height="203.60" fill="#b7e1f3"/><rect x="243.25" y="14.90" width="1.30" height="203.60" fill="#b7e1f3"/><rect x="244.25" y="14.90" width="1.30" height="203.60" fill="#b7e1f3"/><rect x="245.25" y="14.90" width="1.30" height="203.60" fill="#b7e1f3"/><rect x="246.25" y="14.90" width="1.30" height="203.60" fill="#b7e1f3"/><rect x="247.25" y="14.90" width="1.30" height="203.60" fill="#b7e1f3"/><rect x="248.25" y="14.90" width="1.30" height="203.60" fill="#b7e1f3"/><rect x="249.25" y="14.90" width="1.30" height="203.60" fill="#b7e1f3"/><rect x="250.24" y="14.90" width="1.30" height="203.60" fill="#b7e1f3"/><rect x="251.24" y="14.90" width="1.30" height="203.60" fill="#b7e1f3"/><rect x="252.24" y="14.90" width="1.30" height="203.60" fill="#b7e1f3"/><rect x="253.24" y="14.90" width="1.30" height="203.60" fill="#b7e1f3"/><rect x="254.24" y="14.90" width="1.30" height="203.60" fill="#b7e1f3"/><rect x="255.24" y="14.90" width="1.30" height="203.60" fill="#b7e1f3"/><rect x="256.24" y="14.90" width="1.30" height="203.60" fill="#b7e1f3"/><rect x="257.24" y="14.90" width="1.30" height="203.60" fill="#b7e1f3"/><rect x="258.24" y="14.90" width="1.30" height="203.60" fill="#b7e1f3"/><rect x="259.24" y="14.90" width="1.30" height="203.60" fill="#b7e1f3"/><rect x="260.24" y="14.90" width="1.30" height="203.60" fill="#b7e1f3"/><rect x="261.24" y="14.90" width="1.30" height="203.60" fill="#b7e1f3"/><rect x="262.23" y="14.90" width="1.30" height="203.60" fill="#b7e1f3"/><rect x="263.23" y="14.90" width="1.30" height="203.60" fill="#b7e1f3"/><rect x="264.23" y="14.90" width="1.30" height="203.60" fill="#b7e1f3"/><rect x="265.23" y="14.90" width="1.30" height="203.60" fill="#b7e1f3"/><rect x="266.23" y="14.90" width="1.30" height="203.60" fill="#b7e1f3"/><rect x="267.23" y="14.90" width="1.30" height="203.60" fill="#b7e1f3"/><rect x="268.23" y="14.90" width="1.30" height="203.60" fill="#b7e1f3"/><rect x="269.23" y="14.90" width="1.30" height="203.60" fill="#b7e1f3"/><rect x="270.23" y="14.90" width="1.30" height="203.60" fill="#b7e1f3"/><rect x="271.23" y="14.90" width="1.30" height="203.60" fill="#b7e1f3"/><rect x="272.23" y="14.90" width="1.30" height="203.60" fill="#b7e1f3"/><rect x="273.23" y="14.90" width="1.30" height="203.60" fill="#b7e1f3"/><rect x="274.23" y="14.90" width="1.30" height="203.60" fill="#b7e1f3"/><rect x="275.22" y="14.90" width="1.30" height="203.60" fill="#b7e1f3"/><rect x="276.22" y="14.90" width="1.30" height="203.60" fill="#b7e1f3"/><rect x="277.22" y="14.90" width="1.30" height="203.60" fill="#b7e1f3"/><rect x="278.22" y="14.90" width="1.30" height="203.60" fill="#b7e1f3"/><rect x="279.22" y="14.90" width="1.30" height="203.60" fill="#b7e1f3"/><rect x="280.22" y="14.90" width="1.30" height="203.60" fill="#b7e1f3"/><rect x="281.22" y="14.90" width="1.30" height="203.60" fill="#b7e1f3"/><rect x="282.22" y="14.90" width="1.30" height="203.60" fill="#b7e1f3"/><rect x="283.22" y="14.90" width="1.30" height="203.60" fill="#b7e1f3"/><rect x="284.22" y="14.90" width="1.30" height="203.60" fill="#b7e1f3"/><rect x="285.22" y="14.90" width="1.30" height="203.60" fill="#b7e1f3"/><rect x="286.22" y="14.90" width="1.30" height="203.60" fill="#b7e1f3"/><rect x="287.22" y="14.90" width="1.30" height="203.60" fill="#b7e1f3"/><rect x="288.21" y="14.90" width="1.30" height="203.60" fill="#b7e1f3"/><rect x="289.21" y="14.90" width="1.30" height="203.60" fill="#b7e1f3"/><rect x="290.21" y="14.90" width="1.30" height="203.60" fill="#b7e1f3"/><rect x="291.21" y="14.90" width="1.30" height="203.60" fill="#b7e1f3"/><rect x="292.21" y="14.90" width="1.30" height="203.60" fill="#b7e1f3"/><rect x="293.21" y="14.90" width="1.30" height="203.60" fill="#b7e1f3"/><rect x="294.21" y="14.90" width="1.30" height="203.60" fill="#b7e1f3"/><rect x="295.21" y="14.90" width="1.30" height="203.60" fill="#b7e1f3"/><rect x="296.21" y="14.90" width="1.30" height="203.60" fill="#b7e1f3"/><rect x="297.21" y="14.90" width="1.30" height="203.60" fill="#b7e1f3"/><rect x="298.21" y="14.90" width="1.30" height="203.60" fill="#b7e1f3"/><rect x="299.21" y="14.90" width="1.30" height="203.60" fill="#b7e1f3"/><rect x="300.20" y="14.90" width="1.30" height="203.60" fill="#b7e1f3"/><rect x="301.20" y="14.90" width="1.30" height="203.60" fill="#b7e1f3"/><rect x="302.20" y="14.90" width="1.30" height="203.60" fill="#b7e1f3"/><rect x="303.20" y="14.90" width="1.30" height="203.60" fill="#b7e1f3"/><rect x="304.20" y="14.90" width="1.30" height="203.60" fill="#b7e1f3"/><rect x="305.20" y="14.90" width="1.30" height="203.60" fill="#b7e1f3"/>
<text x="79.9" y="188.7" font-size="9.8" text-anchor="start" fill="#111" >Ir-Cl</text>
<text x="163.9" y="178.6" font-size="9.8" text-anchor="start" fill="#111" >Ir-Cl</text>
<rect x="54.40" y="14.90" width="251.80" height="203.60" fill="none" stroke="#000" stroke-width="1.7"/>
<line x1="50.40" y1="14.90" x2="54.40" y2="14.90" stroke="#000" stroke-width="1.3" />
<line x1="51.90" y1="48.83" x2="54.40" y2="48.83" stroke="#000" stroke-width="1.3" />
<line x1="50.40" y1="82.77" x2="54.40" y2="82.77" stroke="#000" stroke-width="1.3" />
<line x1="51.90" y1="116.70" x2="54.40" y2="116.70" stroke="#000" stroke-width="1.3" />
<line x1="50.40" y1="150.63" x2="54.40" y2="150.63" stroke="#000" stroke-width="1.3" />
<line x1="51.90" y1="184.57" x2="54.40" y2="184.57" stroke="#000" stroke-width="1.3" />
<line x1="50.40" y1="218.50" x2="54.40" y2="218.50" stroke="#000" stroke-width="1.3" />
<text x="47.0" y="19.5" font-size="12.9" text-anchor="end" fill="#1a1a1a" >2.1</text>
<text x="47.0" y="87.4" font-size="12.9" text-anchor="end" fill="#1a1a1a" >1.8</text>
<text x="47.0" y="155.2" font-size="12.9" text-anchor="end" fill="#1a1a1a" >1.5</text>
<text x="48.6" y="221.1" font-size="13.4" text-anchor="end" fill="#1a1a1a" >OCP</text>
<line x1="54.40" y1="218.50" x2="54.40" y2="222.50" stroke="#000" stroke-width="1.3" />
<line x1="79.58" y1="218.50" x2="79.58" y2="221.00" stroke="#000" stroke-width="1.3" />
<line x1="104.76" y1="218.50" x2="104.76" y2="222.50" stroke="#000" stroke-width="1.3" />
<line x1="129.94" y1="218.50" x2="129.94" y2="221.00" stroke="#000" stroke-width="1.3" />
<line x1="155.12" y1="218.50" x2="155.12" y2="222.50" stroke="#000" stroke-width="1.3" />
<line x1="180.30" y1="218.50" x2="180.30" y2="221.00" stroke="#000" stroke-width="1.3" />
<line x1="205.48" y1="218.50" x2="205.48" y2="222.50" stroke="#000" stroke-width="1.3" />
<line x1="230.66" y1="218.50" x2="230.66" y2="221.00" stroke="#000" stroke-width="1.3" />
<line x1="255.84" y1="218.50" x2="255.84" y2="222.50" stroke="#000" stroke-width="1.3" />
<line x1="281.02" y1="218.50" x2="281.02" y2="221.00" stroke="#000" stroke-width="1.3" />
<line x1="306.20" y1="218.50" x2="306.20" y2="222.50" stroke="#000" stroke-width="1.3" />
<text x="54.4" y="236.2" font-size="13" text-anchor="middle" fill="#1a1a1a" >100</text>
<text x="104.8" y="236.2" font-size="13" text-anchor="middle" fill="#1a1a1a" >200</text>
<text x="155.1" y="236.2" font-size="13" text-anchor="middle" fill="#1a1a1a" >300</text>
<text x="205.5" y="236.2" font-size="13" text-anchor="middle" fill="#1a1a1a" >400</text>
<text x="255.8" y="236.2" font-size="13" text-anchor="middle" fill="#1a1a1a" >500</text>
<text x="306.2" y="236.2" font-size="13" text-anchor="middle" fill="#1a1a1a" >600</text>
<text x="181.3" y="253.5" font-size="13.4" text-anchor="middle" fill="#1a1a1a">Raman Shift (cm<tspan font-size="9.5" dy="-5">-1</tspan><tspan dy="5">)</tspan></text>
<text transform="translate(20.9,116.4) rotate(-90)" font-size="13.25" text-anchor="middle" fill="#1a1a1a">Potential (V) vs. RHE</text>
<defs><linearGradient id="cba" x1="0" y1="0" x2="0" y2="1"><stop offset="0.000" stop-color="#f76b6f"/><stop offset="0.250" stop-color="#fc9458"/><stop offset="0.460" stop-color="#fdbb45"/><stop offset="0.670" stop-color="#d8cc95"/><stop offset="0.850" stop-color="#c2dcdc"/><stop offset="1.000" stop-color="#b6e1f8"/></linearGradient></defs>
<rect x="315.2" y="14.9" width="4.7" height="204.0" fill="url(#cba)"/>
<text transform="translate(328.1,120.6) rotate(90)" font-size="13.3" text-anchor="middle" fill="#1a1a1a">Intensity (a.u.)</text>
<text x="0.0" y="14.6" font-size="20" font-weight="bold" text-anchor="start" fill="#000" >a</text>
<defs><linearGradient id="g60" x1="0" y1="0" x2="0" y2="1"><stop offset="0.000" stop-color="#b4e3fb"/><stop offset="0.825" stop-color="#b4e3fa"/><stop offset="0.975" stop-color="#bbdfe9"/><stop offset="1.000" stop-color="#bbdfe8"/></linearGradient><linearGradient id="g61" x1="0" y1="0" x2="0" y2="1"><stop offset="0.000" stop-color="#b4e3fb"/><stop offset="0.825" stop-color="#b4e3fa"/><stop offset="0.975" stop-color="#bcdee7"/><stop offset="1.000" stop-color="#bcdee6"/></linearGradient><linearGradient id="g62" x1="0" y1="0" x2="0" y2="1"><stop offset="0.000" stop-color="#b4e3fb"/><stop offset="0.825" stop-color="#b4e3fa"/><stop offset="0.975" stop-color="#bcdee6"/><stop offset="1.000" stop-color="#bcdee5"/></linearGradient><linearGradient id="g63" x1="0" y1="0" x2="0" y2="1"><stop offset="0.000" stop-color="#b4e3fb"/><stop offset="0.825" stop-color="#b4e3fa"/><stop offset="0.975" stop-color="#bcdee5"/><stop offset="1.000" stop-color="#bddee4"/></linearGradient><linearGradient id="g64" x1="0" y1="0" x2="0" y2="1"><stop offset="0.000" stop-color="#b4e3fb"/><stop offset="0.825" stop-color="#b4e3fa"/><stop offset="0.975" stop-color="#bddee4"/><stop offset="1.000" stop-color="#bddee3"/></linearGradient><linearGradient id="g65" x1="0" y1="0" x2="0" y2="1"><stop offset="0.000" stop-color="#b4e3fb"/><stop offset="0.825" stop-color="#b4e3fa"/><stop offset="0.975" stop-color="#bddee4"/><stop offset="1.000" stop-color="#bddee3"/></linearGradient><linearGradient id="g66" x1="0" y1="0" x2="0" y2="1"><stop offset="0.000" stop-color="#b4e3fb"/><stop offset="0.825" stop-color="#b4e3fa"/><stop offset="0.975" stop-color="#bcdee5"/><stop offset="1.000" stop-color="#bddee4"/></linearGradient><linearGradient id="g67" x1="0" y1="0" x2="0" y2="1"><stop offset="0.000" stop-color="#b4e3fb"/><stop offset="0.825" stop-color="#b4e3fa"/><stop offset="0.975" stop-color="#bcdee6"/><stop offset="1.000" stop-color="#bcdee5"/></linearGradient><linearGradient id="g68" x1="0" y1="0" x2="0" y2="1"><stop offset="0.000" stop-color="#b4e3fb"/><stop offset="0.825" stop-color="#b4e3fa"/><stop offset="0.975" stop-color="#bcdee7"/><stop offset="1.000" stop-color="#bcdee6"/></linearGradient><linearGradient id="g69" x1="0" y1="0" x2="0" y2="1"><stop offset="0.000" stop-color="#b4e3fb"/><stop offset="0.825" stop-color="#b4e3fa"/><stop offset="0.975" stop-color="#bbdfe8"/><stop offset="1.000" stop-color="#bbdfe8"/></linearGradient><linearGradient id="g70" x1="0" y1="0" x2="0" y2="1"><stop offset="0.000" stop-color="#b4e3fb"/><stop offset="0.825" stop-color="#b4e3fa"/><stop offset="0.975" stop-color="#badfea"/><stop offset="1.000" stop-color="#bbdfe9"/></linearGradient><linearGradient id="g71" x1="0" y1="0" x2="0" y2="1"><stop offset="0.000" stop-color="#b4e3fb"/><stop offset="0.825" stop-color="#b4e3fa"/><stop offset="1.000" stop-color="#badfeb"/></linearGradient><linearGradient id="g72" x1="0" y1="0" x2="0" y2="1"><stop offset="0.000" stop-color="#b4e3fb"/><stop offset="0.850" stop-color="#b5e3f9"/><stop offset="1.000" stop-color="#b9e0ed"/></linearGradient><linearGradient id="g73" x1="0" y1="0" x2="0" y2="1"><stop offset="0.000" stop-color="#b4e3fb"/><stop offset="0.850" stop-color="#b5e3f9"/><stop offset="1.000" stop-color="#b8e0ef"/></linearGradient><linearGradient id="g74" x1="0" y1="0" x2="0" y2="1"><stop offset="0.000" stop-color="#b4e3fb"/><stop offset="0.850" stop-color="#b5e3f9"/><stop offset="1.000" stop-color="#b8e1f1"/></linearGradient><linearGradient id="g75" x1="0" y1="0" x2="0" y2="1"><stop offset="0.000" stop-color="#b4e3fb"/><stop offset="0.850" stop-color="#b4e3fa"/><stop offset="1.000" stop-color="#b7e1f3"/></linearGradient><linearGradient id="g76" x1="0" y1="0" x2="0" y2="1"><stop offset="0.000" stop-color="#b4e3fb"/><stop offset="0.875" stop-color="#b5e3f9"/><stop offset="1.000" stop-color="#b6e2f5"/></linearGradient><linearGradient id="g77" x1="0" y1="0" x2="0" y2="1"><stop offset="0.000" stop-color="#b4e3fb"/><stop offset="0.875" stop-color="#b5e3f9"/><stop offset="1.000" stop-color="#b6e2f6"/></linearGradient><linearGradient id="g78" x1="0" y1="0" x2="0" y2="1"><stop offset="0.000" stop-color="#b4e3fb"/><stop offset="0.900" stop-color="#b5e3f9"/><stop offset="1.000" stop-color="#b5e2f7"/></linearGradient><linearGradient id="g79" x1="0" y1="0" x2="0" y2="1"><stop offset="0.000" stop-color="#b4e3fb"/><stop offset="0.925" stop-color="#b5e3f9"/><stop offset="1.000" stop-color="#b5e2f8"/></linearGradient><linearGradient id="g80" x1="0" y1="0" x2="0" y2="1"><stop offset="0.000" stop-color="#b5e2f8"/><stop offset="0.350" stop-color="#b6e2f5"/><stop offset="0.850" stop-color="#b4e3fb"/><stop offset="1.000" stop-color="#b4e3fa"/></linearGradient><linearGradient id="g81" x1="0" y1="0" x2="0" y2="1"><stop offset="0.000" stop-color="#b6e2f6"/><stop offset="0.325" stop-color="#b8e1f1"/><stop offset="0.775" stop-color="#b4e3fb"/><stop offset="1.000" stop-color="#b4e3fa"/></linearGradient><linearGradient id="g82" x1="0" y1="0" x2="0" y2="1"><stop offset="0.000" stop-color="#b7e1f4"/><stop offset="0.300" stop-color="#bae0ec"/><stop offset="0.750" stop-color="#b4e3fb"/><stop offset="1.000" stop-color="#b4e3fb"/></linearGradient><linearGradient id="g83" x1="0" y1="0" x2="0" y2="1"><stop offset="0.000" stop-color="#b8e1f2"/><stop offset="0.300" stop-color="#bcdee6"/><stop offset="0.725" stop-color="#b4e3fb"/><stop offset="1.000" stop-color="#b4e3fb"/></linearGradient><linearGradient id="g84" x1="0" y1="0" x2="0" y2="1"><stop offset="0.000" stop-color="#b9e0ee"/><stop offset="0.275" stop-color="#bfddde"/><stop offset="0.725" stop-color="#b4e3fb"/><stop offset="1.000" stop-color="#b4e3fb"/></linearGradient><linearGradient id="g85" x1="0" y1="0" x2="0" y2="1"><stop offset="0.000" stop-color="#badfeb"/><stop offset="0.275" stop-color="#c2dbd6"/><stop offset="0.700" stop-color="#b4e3fb"/><stop offset="1.000" stop-color="#b4e3fb"/></linearGradient><linearGradient id="g86" x1="0" y1="0" x2="0" y2="1"><stop offset="0.000" stop-color="#bcdfe7"/><stop offset="0.275" stop-color="#c5d9cd"/><stop offset="0.650" stop-color="#b6e2f5"/><stop offset="0.700" stop-color="#b4e3fb"/><stop offset="1.000" stop-color="#b4e3fb"/></linearGradient><linearGradient id="g87" x1="0" y1="0" x2="0" y2="1"><stop offset="0.000" stop-color="#bddee3"/><stop offset="0.275" stop-color="#c8d7c5"/><stop offset="0.625" stop-color="#b8e1f0"/><stop offset="0.700" stop-color="#b4e3fb"/><stop offset="1.000" stop-color="#b4e3fb"/></linearGradient><linearGradient id="g88" x1="0" y1="0" x2="0" y2="1"><stop offset="0.000" stop-color="#bedde0"/><stop offset="0.275" stop-color="#cbd5be"/><stop offset="0.625" stop-color="#b9e0ef"/><stop offset="0.700" stop-color="#b4e3fb"/><stop offset="1.000" stop-color="#b4e3fb"/></linearGradient><linearGradient id="g89" x1="0" y1="0" x2="0" y2="1"><stop offset="0.000" stop-color="#bfdcde"/><stop offset="0.250" stop-color="#ccd5bb"/><stop offset="0.275" stop-color="#cdd4b8"/><stop offset="0.600" stop-color="#bbdfe9"/><stop offset="0.700" stop-color="#b4e3fb"/><stop offset="1.000" stop-color="#b4e3fb"/></linearGradient><linearGradient id="g90" x1="0" y1="0" x2="0" y2="1"><stop offset="0.000" stop-color="#c0dcdc"/><stop offset="0.225" stop-color="#ccd5bc"/><stop offset="0.275" stop-color="#cfd3b5"/><stop offset="0.600" stop-color="#bbdfe8"/><stop offset="0.700" stop-color="#b4e3fb"/><stop offset="1.000" stop-color="#b4e3fb"/></linearGradient><linearGradient id="g91" x1="0" y1="0" x2="0" y2="1"><stop offset="0.000" stop-color="#c0dcdc"/><stop offset="0.225" stop-color="#ccd5bb"/><stop offset="0.275" stop-color="#cfd3b5"/><stop offset="0.600" stop-color="#bbdfe8"/><stop offset="0.700" stop-color="#b4e3fb"/><stop offset="1.000" stop-color="#b4e3fb"/></linearGradient><linearGradient id="g92" x1="0" y1="0" x2="0" y2="1"><stop offset="0.000" stop-color="#bfdcdd"/><stop offset="0.250" stop-color="#cdd4ba"/><stop offset="0.275" stop-color="#ced4b7"/><stop offset="0.600" stop-color="#bbdfe9"/><stop offset="0.700" stop-color="#b4e3fb"/><stop offset="1.000" stop-color="#b4e3fb"/></linearGradient><linearGradient id="g93" x1="0" y1="0" x2="0" y2="1"><stop offset="0.000" stop-color="#bedde0"/><stop offset="0.275" stop-color="#ccd5bc"/><stop offset="0.625" stop-color="#b9e0ee"/><stop offset="0.700" stop-color="#b4e3fb"/><stop offset="1.000" stop-color="#b4e3fb"/></linearGradient><linearGradient id="g94" x1="0" y1="0" x2="0" y2="1"><stop offset="0.000" stop-color="#bddde3"/><stop offset="0.275" stop-color="#c9d6c3"/><stop offset="0.625" stop-color="#b8e0f0"/><stop offset="0.700" stop-color="#b4e3fb"/><stop offset="1.000" stop-color="#b4e3fb"/></linearGradient><linearGradient id="g95" x1="0" y1="0" x2="0" y2="1"><stop offset="0.000" stop-color="#bcdee6"/><stop offset="0.275" stop-color="#c6d8cb"/><stop offset="0.650" stop-color="#b6e2f5"/><stop offset="0.700" stop-color="#b4e3fb"/><stop offset="1.000" stop-color="#b4e3fb"/></linearGradient><linearGradient id="g96" x1="0" y1="0" x2="0" y2="1"><stop offset="0.000" stop-color="#bbdfea"/><stop offset="0.275" stop-color="#c3dad4"/><stop offset="0.700" stop-color="#b4e3fb"/><stop offset="1.000" stop-color="#b4e3fb"/></linearGradient><linearGradient id="g97" x1="0" y1="0" x2="0" y2="1"><stop offset="0.000" stop-color="#b9e0ed"/><stop offset="0.275" stop-color="#c0dcdc"/><stop offset="0.725" stop-color="#b4e3fb"/><stop offset="1.000" stop-color="#b4e3fb"/></linearGradient><linearGradient id="g98" x1="0" y1="0" x2="0" y2="1"><stop offset="0.000" stop-color="#b8e1f1"/><stop offset="0.300" stop-color="#bddee4"/><stop offset="0.725" stop-color="#b4e3fb"/><stop offset="1.000" stop-color="#b4e3fb"/></linearGradient><linearGradient id="g99" x1="0" y1="0" x2="0" y2="1"><stop offset="0.000" stop-color="#b7e1f4"/><stop offset="0.300" stop-color="#badfeb"/><stop offset="0.750" stop-color="#b4e3fb"/><stop offset="1.000" stop-color="#b4e3fb"/></linearGradient><linearGradient id="g100" x1="0" y1="0" x2="0" y2="1"><stop offset="0.000" stop-color="#b6e2f6"/><stop offset="0.325" stop-color="#b8e1f0"/><stop offset="0.775" stop-color="#b4e3fb"/><stop offset="1.000" stop-color="#b4e3fb"/></linearGradient><linearGradient id="g101" x1="0" y1="0" x2="0" y2="1"><stop offset="0.000" stop-color="#b5e2f8"/><stop offset="0.350" stop-color="#b7e1f4"/><stop offset="0.825" stop-color="#b4e3fb"/><stop offset="1.000" stop-color="#b4e3fb"/></linearGradient><linearGradient id="g102" x1="0" y1="0" x2="0" y2="1"><stop offset="0.000" stop-color="#b5e2f9"/><stop offset="0.400" stop-color="#b5e2f7"/><stop offset="1.000" stop-color="#b4e3fb"/></linearGradient><linearGradient id="g103" x1="0" y1="0" x2="0" y2="1"><stop offset="0.000" stop-color="#b5e3f9"/><stop offset="1.000" stop-color="#b4e3fb"/></linearGradient><linearGradient id="g104" x1="0" y1="0" x2="0" y2="1"><stop offset="0.000" stop-color="#b6e2f7"/><stop offset="0.375" stop-color="#b6e2f6"/><stop offset="0.800" stop-color="#b4e3fb"/><stop offset="1.000" stop-color="#b4e3fb"/></linearGradient><linearGradient id="g105" x1="0" y1="0" x2="0" y2="1"><stop offset="0.000" stop-color="#b8e1f2"/><stop offset="0.275" stop-color="#b9e0ed"/><stop offset="0.575" stop-color="#b5e2f7"/><stop offset="0.725" stop-color="#b4e3fb"/><stop offset="1.000" stop-color="#b4e3fb"/></linearGradient><linearGradient id="g106" x1="0" y1="0" x2="0" y2="1"><stop offset="0.000" stop-color="#bbdfe9"/><stop offset="0.175" stop-color="#bedde0"/><stop offset="0.275" stop-color="#bfdddf"/><stop offset="0.525" stop-color="#b9e0ee"/><stop offset="0.650" stop-color="#b4e3fb"/><stop offset="1.000" stop-color="#b4e3fb"/></linearGradient><linearGradient id="g107" x1="0" y1="0" x2="0" y2="1"><stop offset="0.000" stop-color="#c0dcdc"/><stop offset="0.125" stop-color="#c5d9cf"/><stop offset="0.250" stop-color="#c7d8c9"/><stop offset="0.500" stop-color="#bfdddf"/><stop offset="0.650" stop-color="#b4e3fb"/><stop offset="1.000" stop-color="#b4e3fb"/></linearGradient><linearGradient id="g108" x1="0" y1="0" x2="0" y2="1"><stop offset="0.000" stop-color="#c6d8cc"/><stop offset="0.100" stop-color="#cdd4b9"/><stop offset="0.250" stop-color="#d2d1ac"/><stop offset="0.425" stop-color="#c8d7c6"/><stop offset="0.500" stop-color="#c4d9d0"/><stop offset="0.625" stop-color="#b6e2f7"/><stop offset="0.650" stop-color="#b4e3fb"/><stop offset="1.000" stop-color="#b4e3fb"/></linearGradient><linearGradient id="g109" x1="0" y1="0" x2="0" y2="1"><stop offset="0.000" stop-color="#ccd4bb"/><stop offset="0.050" stop-color="#d2d1ab"/><stop offset="0.100" stop-color="#d9cd98"/><stop offset="0.250" stop-color="#e2c883"/><stop offset="0.450" stop-color="#ced4b8"/><stop offset="0.500" stop-color="#cad6c1"/><stop offset="0.625" stop-color="#b6e2f5"/><stop offset="0.650" stop-color="#b4e3fb"/><stop offset="1.000" stop-color="#b4e3fb"/></linearGradient><linearGradient id="g110" x1="0" y1="0" x2="0" y2="1"><stop offset="0.000" stop-color="#d3d1aa"/><stop offset="0.100" stop-color="#e4c77d"/><stop offset="0.250" stop-color="#efc163"/><stop offset="0.500" stop-color="#cfd3b5"/><stop offset="0.625" stop-color="#b7e1f4"/><stop offset="0.650" stop-color="#b4e3fb"/><stop offset="1.000" stop-color="#b4e3fb"/></linearGradient><linearGradient id="g111" x1="0" y1="0" x2="0" y2="1"><stop offset="0.000" stop-color="#d6cfa1"/><stop offset="0.100" stop-color="#e9c471"/><stop offset="0.250" stop-color="#f6be55"/><stop offset="0.500" stop-color="#d1d2af"/><stop offset="0.625" stop-color="#b7e1f3"/><stop offset="0.650" stop-color="#b4e3fb"/><stop offset="1.000" stop-color="#b4e3fb"/></linearGradient><linearGradient id="g112" x1="0" y1="0" x2="0" y2="1"><stop offset="0.000" stop-color="#d5cfa4"/><stop offset="0.100" stop-color="#e7c577"/><stop offset="0.250" stop-color="#f3c05c"/><stop offset="0.500" stop-color="#cfd3b4"/><stop offset="0.625" stop-color="#b7e1f4"/><stop offset="0.650" stop-color="#b4e3fb"/><stop offset="1.000" stop-color="#b4e3fb"/></linearGradient><linearGradient id="g113" x1="0" y1="0" x2="0" y2="1"><stop offset="0.000" stop-color="#d0d3b2"/><stop offset="0.100" stop-color="#deca8b"/><stop offset="0.250" stop-color="#e9c472"/><stop offset="0.475" stop-color="#cdd4b9"/><stop offset="0.500" stop-color="#cbd5be"/><stop offset="0.625" stop-color="#b6e2f5"/><stop offset="0.650" stop-color="#b4e3fb"/><stop offset="1.000" stop-color="#b4e3fb"/></linearGradient><linearGradient id="g114" x1="0" y1="0" x2="0" y2="1"><stop offset="0.000" stop-color="#cbd5bf"/><stop offset="0.075" stop-color="#d2d1ad"/><stop offset="0.100" stop-color="#d5d0a5"/><stop offset="0.250" stop-color="#ddcb90"/><stop offset="0.400" stop-color="#ced4b8"/><stop offset="0.500" stop-color="#c6d8cb"/><stop offset="0.625" stop-color="#b6e2f6"/><stop offset="0.650" stop-color="#b4e3fb"/><stop offset="1.000" stop-color="#b4e3fb"/></linearGradient><linearGradient id="g115" x1="0" y1="0" x2="0" y2="1"><stop offset="0.000" stop-color="#c7d8c9"/><stop offset="0.125" stop-color="#ced4b7"/><stop offset="0.250" stop-color="#d3d1aa"/><stop offset="0.350" stop-color="#ccd5bd"/><stop offset="0.500" stop-color="#c2dad5"/><stop offset="0.625" stop-color="#b6e2f6"/><stop offset="0.675" stop-color="#b4e3fb"/><stop offset="1.000" stop-color="#b4e3fb"/></linearGradient><linearGradient id="g116" x1="0" y1="0" x2="0" y2="1"><stop offset="0.000" stop-color="#c5d9cd"/><stop offset="0.200" stop-color="#cdd4b8"/><stop offset="0.250" stop-color="#ced3b5"/><stop offset="0.525" stop-color="#bedde0"/><stop offset="0.625" stop-color="#b6e2f6"/><stop offset="0.700" stop-color="#b4e3fb"/><stop offset="1.000" stop-color="#b4e3fb"/></linearGradient><linearGradient id="g117" x1="0" y1="0" x2="0" y2="1"><stop offset="0.000" stop-color="#c7d8ca"/><stop offset="0.200" stop-color="#cfd3b4"/><stop offset="0.250" stop-color="#d0d2b1"/><stop offset="0.550" stop-color="#bedde2"/><stop offset="0.625" stop-color="#b7e1f3"/><stop offset="0.700" stop-color="#b4e3fb"/><stop offset="1.000" stop-color="#b4e3fb"/></linearGradient><linearGradient id="g118" x1="0" y1="0" x2="0" y2="1"><stop offset="0.000" stop-color="#cbd5bf"/><stop offset="0.100" stop-color="#d0d2b0"/><stop offset="0.175" stop-color="#d7ce9f"/><stop offset="0.250" stop-color="#d8cd9b"/><stop offset="0.375" stop-color="#cdd4b9"/><stop offset="0.550" stop-color="#c1dbd9"/><stop offset="0.625" stop-color="#b9e0ef"/><stop offset="0.675" stop-color="#b4e3fa"/><stop offset="1.000" stop-color="#b4e3fb"/></linearGradient><linearGradient id="g119" x1="0" y1="0" x2="0" y2="1"><stop offset="0.000" stop-color="#d3d1aa"/><stop offset="0.100" stop-color="#ddcb90"/><stop offset="0.175" stop-color="#e6c678"/><stop offset="0.250" stop-color="#e7c576"/><stop offset="0.450" stop-color="#ced3b5"/><stop offset="0.550" stop-color="#c6d8ca"/><stop offset="0.650" stop-color="#b8e1f1"/><stop offset="0.675" stop-color="#b5e3f9"/><stop offset="1.000" stop-color="#b4e3fb"/></linearGradient><linearGradient id="g120" x1="0" y1="0" x2="0" y2="1"><stop offset="0.000" stop-color="#dfc989"/><stop offset="0.100" stop-color="#edc268"/><stop offset="0.175" stop-color="#fbbc49"/><stop offset="0.250" stop-color="#fcbc48"/><stop offset="0.525" stop-color="#d0d3b2"/><stop offset="0.550" stop-color="#cdd4b9"/><stop offset="0.650" stop-color="#b9e0ed"/><stop offset="0.675" stop-color="#b5e2f9"/><stop offset="0.825" stop-color="#b4e3fb"/><stop offset="1.000" stop-color="#b4e3fb"/></linearGradient><linearGradient id="g121" x1="0" y1="0" x2="0" y2="1"><stop offset="0.000" stop-color="#eec267"/><stop offset="0.075" stop-color="#fabc4c"/><stop offset="0.100" stop-color="#fdb747"/><stop offset="0.175" stop-color="#fc9c54"/><stop offset="0.250" stop-color="#fc9c54"/><stop offset="0.350" stop-color="#fcbb47"/><stop offset="0.550" stop-color="#d6cfa0"/><stop offset="0.575" stop-color="#ced4b8"/><stop offset="0.675" stop-color="#b5e2f8"/><stop offset="0.725" stop-color="#b4e3fb"/><stop offset="1.000" stop-color="#b4e3fb"/></linearGradient><linearGradient id="g122" x1="0" y1="0" x2="0" y2="1"><stop offset="0.000" stop-color="#f9bd4d"/><stop offset="0.025" stop-color="#fdb946"/><stop offset="0.100" stop-color="#fca052"/><stop offset="0.175" stop-color="#fa8360"/><stop offset="0.250" stop-color="#fa8360"/><stop offset="0.325" stop-color="#fc9c54"/><stop offset="0.400" stop-color="#fdb747"/><stop offset="0.425" stop-color="#fabd4d"/><stop offset="0.550" stop-color="#dfc98a"/><stop offset="0.575" stop-color="#d4d0a8"/><stop offset="0.600" stop-color="#cbd6c0"/><stop offset="0.675" stop-color="#b5e2f7"/><stop offset="0.725" stop-color="#b4e3fb"/><stop offset="1.000" stop-color="#b4e3fb"/></linearGradient><linearGradient id="g123" x1="0" y1="0" x2="0" y2="1"><stop offset="0.000" stop-color="#fdb747"/><stop offset="0.100" stop-color="#fb9457"/><stop offset="0.175" stop-color="#f97967"/><stop offset="0.250" stop-color="#f97a66"/><stop offset="0.325" stop-color="#fb8f59"/><stop offset="0.425" stop-color="#fdb647"/><stop offset="0.450" stop-color="#fabc4b"/><stop offset="0.550" stop-color="#e4c77d"/><stop offset="0.600" stop-color="#cdd4ba"/><stop offset="0.675" stop-color="#b6e2f7"/><stop offset="0.700" stop-color="#b4e3fb"/><stop offset="1.000" stop-color="#b4e3fb"/></linearGradient><linearGradient id="g124" x1="0" y1="0" x2="0" y2="1"><stop offset="0.000" stop-color="#fdb946"/><stop offset="0.100" stop-color="#fc9756"/><stop offset="0.150" stop-color="#fa8360"/><stop offset="0.175" stop-color="#f97b65"/><stop offset="0.250" stop-color="#f97c65"/><stop offset="0.325" stop-color="#fb9258"/><stop offset="0.425" stop-color="#fdb847"/><stop offset="0.450" stop-color="#f9bd4d"/><stop offset="0.550" stop-color="#e3c77e"/><stop offset="0.600" stop-color="#cdd4ba"/><stop offset="0.675" stop-color="#b6e2f7"/><stop offset="0.700" stop-color="#b4e3fb"/><stop offset="1.000" stop-color="#b4e3fb"/></linearGradient><linearGradient id="g125" x1="0" y1="0" x2="0" y2="1"><stop offset="0.000" stop-color="#f5bf57"/><stop offset="0.050" stop-color="#fdb946"/><stop offset="0.125" stop-color="#fc9e53"/><stop offset="0.175" stop-color="#fb8a5c"/><stop offset="0.250" stop-color="#fb8b5c"/><stop offset="0.375" stop-color="#fdb548"/><stop offset="0.400" stop-color="#fbbc48"/><stop offset="0.550" stop-color="#deca8c"/><stop offset="0.575" stop-color="#d3d0a9"/><stop offset="0.600" stop-color="#cbd6c0"/><stop offset="0.675" stop-color="#b5e2f7"/><stop offset="0.725" stop-color="#b4e3fb"/><stop offset="1.000" stop-color="#b4e3fb"/></linearGradient><linearGradient id="g126" x1="0" y1="0" x2="0" y2="1"><stop offset="0.000" stop-color="#e7c577"/><stop offset="0.075" stop-color="#f2c05e"/><stop offset="0.125" stop-color="#fcbb47"/><stop offset="0.175" stop-color="#fcab4d"/><stop offset="0.250" stop-color="#fcac4c"/><stop offset="0.300" stop-color="#fdba45"/><stop offset="0.550" stop-color="#d5cfa4"/><stop offset="0.575" stop-color="#cdd4b9"/><stop offset="0.675" stop-color="#b5e2f8"/><stop offset="0.725" stop-color="#b4e3fb"/><stop offset="1.000" stop-color="#b4e3fb"/></linearGradient><linearGradient id="g127" x1="0" y1="0" x2="0" y2="1"><stop offset="0.000" stop-color="#d7ce9e"/><stop offset="0.100" stop-color="#e2c781"/><stop offset="0.175" stop-color="#eec266"/><stop offset="0.250" stop-color="#eec267"/><stop offset="0.500" stop-color="#d0d3b2"/><stop offset="0.550" stop-color="#ccd5bc"/><stop offset="0.675" stop-color="#b5e2f9"/><stop offset="0.825" stop-color="#b4e3fb"/><stop offset="1.000" stop-color="#b4e3fb"/></linearGradient><linearGradient id="g128" x1="0" y1="0" x2="0" y2="1"><stop offset="0.000" stop-color="#cbd5bf"/><stop offset="0.100" stop-color="#d1d2b0"/><stop offset="0.175" stop-color="#d8ce9c"/><stop offset="0.250" stop-color="#d8ce9d"/><stop offset="0.375" stop-color="#ced4b7"/><stop offset="0.550" stop-color="#c5d9cf"/><stop offset="0.675" stop-color="#b5e3f9"/><stop offset="1.000" stop-color="#b4e3fb"/></linearGradient><linearGradient id="g129" x1="0" y1="0" x2="0" y2="1"><stop offset="0.000" stop-color="#c3dad4"/><stop offset="0.200" stop-color="#c9d6c3"/><stop offset="0.300" stop-color="#c7d8c8"/><stop offset="0.550" stop-color="#bfdddf"/><stop offset="0.675" stop-color="#b4e3fa"/><stop offset="1.000" stop-color="#b4e3fb"/></linearGradient><linearGradient id="g130" x1="0" y1="0" x2="0" y2="1"><stop offset="0.000" stop-color="#bddee4"/><stop offset="0.200" stop-color="#c1dcda"/><stop offset="0.550" stop-color="#badfea"/><stop offset="0.675" stop-color="#b4e3fa"/><stop offset="1.000" stop-color="#b4e3fb"/></linearGradient><linearGradient id="g131" x1="0" y1="0" x2="0" y2="1"><stop offset="0.000" stop-color="#b9e0ef"/><stop offset="0.250" stop-color="#bbdfe9"/><stop offset="0.600" stop-color="#b6e2f5"/><stop offset="0.725" stop-color="#b4e3fb"/><stop offset="1.000" stop-color="#b4e3fb"/></linearGradient><linearGradient id="g132" x1="0" y1="0" x2="0" y2="1"><stop offset="0.000" stop-color="#b6e2f5"/><stop offset="0.325" stop-color="#b7e1f3"/><stop offset="0.800" stop-color="#b4e3fb"/><stop offset="1.000" stop-color="#b4e3fb"/></linearGradient><linearGradient id="g133" x1="0" y1="0" x2="0" y2="1"><stop offset="0.000" stop-color="#b5e2f8"/><stop offset="0.600" stop-color="#b4e3fa"/><stop offset="1.000" stop-color="#b4e3fb"/></linearGradient><linearGradient id="g134" x1="0" y1="0" x2="0" y2="1"><stop offset="0.000" stop-color="#b4e3fb"/><stop offset="0.950" stop-color="#b5e3f9"/><stop offset="1.000" stop-color="#b5e2f8"/></linearGradient><linearGradient id="g135" x1="0" y1="0" x2="0" y2="1"><stop offset="0.000" stop-color="#b4e3fb"/><stop offset="0.900" stop-color="#b4e3fa"/><stop offset="1.000" stop-color="#b6e2f6"/></linearGradient><linearGradient id="g136" x1="0" y1="0" x2="0" y2="1"><stop offset="0.000" stop-color="#b4e3fb"/><stop offset="0.900" stop-color="#b5e3f9"/><stop offset="1.000" stop-color="#b7e1f3"/></linearGradient><linearGradient id="g137" x1="0" y1="0" x2="0" y2="1"><stop offset="0.000" stop-color="#b4e3fb"/><stop offset="0.875" stop-color="#b4e3fa"/><stop offset="1.000" stop-color="#b8e0ef"/></linearGradient><linearGradient id="g138" x1="0" y1="0" x2="0" y2="1"><stop offset="0.000" stop-color="#b4e3fb"/><stop offset="0.875" stop-color="#b4e3fa"/><stop offset="1.000" stop-color="#bae0ec"/></linearGradient><linearGradient id="g139" x1="0" y1="0" x2="0" y2="1"><stop offset="0.000" stop-color="#b4e3fb"/><stop offset="0.875" stop-color="#b4e3fa"/><stop offset="1.000" stop-color="#badfeb"/></linearGradient><linearGradient id="g140" x1="0" y1="0" x2="0" y2="1"><stop offset="0.000" stop-color="#b4e3fb"/><stop offset="0.875" stop-color="#b4e3fa"/><stop offset="1.000" stop-color="#badfeb"/></linearGradient><linearGradient id="g141" x1="0" y1="0" x2="0" y2="1"><stop offset="0.000" stop-color="#b4e3fb"/><stop offset="0.875" stop-color="#b4e3fa"/><stop offset="1.000" stop-color="#b9e0ed"/></linearGradient><linearGradient id="g142" x1="0" y1="0" x2="0" y2="1"><stop offset="0.000" stop-color="#b4e3fb"/><stop offset="0.875" stop-color="#b4e3fa"/><stop offset="1.000" stop-color="#b8e1f0"/></linearGradient><linearGradient id="g143" x1="0" y1="0" x2="0" y2="1"><stop offset="0.000" stop-color="#b4e3fb"/><stop offset="0.900" stop-color="#b5e3f9"/><stop offset="1.000" stop-color="#b7e1f4"/></linearGradient><linearGradient id="g144" x1="0" y1="0" x2="0" y2="1"><stop offset="0.000" stop-color="#b4e3fb"/><stop offset="0.900" stop-color="#b4e3fa"/><stop offset="1.000" stop-color="#b6e2f6"/></linearGradient><linearGradient id="g145" x1="0" y1="0" x2="0" y2="1"><stop offset="0.000" stop-color="#b4e3fb"/><stop offset="0.975" stop-color="#b5e2f9"/><stop offset="1.000" stop-color="#b5e2f9"/></linearGradient></defs>
<rect x="402.60" y="14.90" width="1.30" height="203.60" fill="url(#g60)"/><rect x="403.60" y="14.90" width="1.30" height="203.60" fill="url(#g61)"/><rect x="404.60" y="14.90" width="1.30" height="203.60" fill="url(#g62)"/><rect x="405.60" y="14.90" width="1.30" height="203.60" fill="url(#g63)"/><rect x="406.60" y="14.90" width="1.30" height="203.60" fill="url(#g64)"/><rect x="407.60" y="14.90" width="1.30" height="203.60" fill="url(#g65)"/><rect x="408.60" y="14.90" width="1.30" height="203.60" fill="url(#g66)"/><rect x="409.60" y="14.90" width="1.30" height="203.60" fill="url(#g67)"/><rect x="410.60" y="14.90" width="1.30" height="203.60" fill="url(#g68)"/><rect x="411.60" y="14.90" width="1.30" height="203.60" fill="url(#g69)"/><rect x="412.60" y="14.90" width="1.30" height="203.60" fill="url(#g70)"/><rect x="413.60" y="14.90" width="1.30" height="203.60" fill="url(#g71)"/><rect x="414.60" y="14.90" width="1.30" height="203.60" fill="url(#g72)"/><rect x="415.61" y="14.90" width="1.30" height="203.60" fill="url(#g73)"/><rect x="416.61" y="14.90" width="1.30" height="203.60" fill="url(#g74)"/><rect x="417.61" y="14.90" width="1.30" height="203.60" fill="url(#g75)"/><rect x="418.61" y="14.90" width="1.30" height="203.60" fill="url(#g76)"/><rect x="419.61" y="14.90" width="1.30" height="203.60" fill="url(#g77)"/><rect x="420.61" y="14.90" width="1.30" height="203.60" fill="url(#g78)"/><rect x="421.61" y="14.90" width="1.30" height="203.60" fill="url(#g79)"/><rect x="422.61" y="14.90" width="1.30" height="203.60" fill="#b4e3fa"/><rect x="423.61" y="14.90" width="1.30" height="203.60" fill="#b4e3fa"/><rect x="424.61" y="14.90" width="1.30" height="203.60" fill="#b5e3f9"/><rect x="425.61" y="14.90" width="1.30" height="203.60" fill="url(#g80)"/><rect x="426.61" y="14.90" width="1.30" height="203.60" fill="url(#g81)"/><rect x="427.61" y="14.90" width="1.30" height="203.60" fill="url(#g82)"/><rect x="428.61" y="14.90" width="1.30" height="203.60" fill="url(#g83)"/><rect x="429.61" y="14.90" width="1.30" height="203.60" fill="url(#g84)"/><rect x="430.61" y="14.90" width="1.30" height="203.60" fill="url(#g85)"/><rect x="431.61" y="14.90" width="1.30" height="203.60" fill="url(#g86)"/><rect x="432.61" y="14.90" width="1.30" height="203.60" fill="url(#g87)"/><rect x="433.61" y="14.90" width="1.30" height="203.60" fill="url(#g88)"/><rect x="434.61" y="14.90" width="1.30" height="203.60" fill="url(#g89)"/><rect x="435.61" y="14.90" width="1.30" height="203.60" fill="url(#g90)"/><rect x="436.61" y="14.90" width="1.30" height="203.60" fill="url(#g91)"/><rect x="437.61" y="14.90" width="1.30" height="203.60" fill="url(#g92)"/><rect x="438.61" y="14.90" width="1.30" height="203.60" fill="url(#g93)"/><rect x="439.61" y="14.90" width="1.30" height="203.60" fill="url(#g94)"/><rect x="440.62" y="14.90" width="1.30" height="203.60" fill="url(#g95)"/><rect x="441.62" y="14.90" width="1.30" height="203.60" fill="url(#g96)"/><rect x="442.62" y="14.90" width="1.30" height="203.60" fill="url(#g97)"/><rect x="443.62" y="14.90" width="1.30" height="203.60" fill="url(#g98)"/><rect x="444.62" y="14.90" width="1.30" height="203.60" fill="url(#g99)"/><rect x="445.62" y="14.90" width="1.30" height="203.60" fill="url(#g100)"/><rect x="446.62" y="14.90" width="1.30" height="203.60" fill="url(#g101)"/><rect x="447.62" y="14.90" width="1.30" height="203.60" fill="url(#g102)"/><rect x="448.62" y="14.90" width="1.30" height="203.60" fill="#b5e3fa"/><rect x="449.62" y="14.90" width="1.30" height="203.60" fill="#b4e3fa"/><rect x="450.62" y="14.90" width="1.30" height="203.60" fill="#b4e3fb"/><rect x="451.62" y="14.90" width="1.30" height="203.60" fill="#b4e3fb"/><rect x="452.62" y="14.90" width="1.30" height="203.60" fill="#b4e3fb"/><rect x="453.62" y="14.90" width="1.30" height="203.60" fill="#b4e3fb"/><rect x="454.62" y="14.90" width="1.30" height="203.60" fill="#b4e3fb"/><rect x="455.62" y="14.90" width="1.30" height="203.60" fill="#b4e3fb"/><rect x="456.62" y="14.90" width="1.30" height="203.60" fill="#b4e3fb"/><rect x="457.62" y="14.90" width="1.30" height="203.60" fill="#b4e3fb"/><rect x="458.62" y="14.90" width="1.30" height="203.60" fill="#b4e3fb"/><rect x="459.62" y="14.90" width="1.30" height="203.60" fill="#b4e3fb"/><rect x="460.62" y="14.90" width="1.30" height="203.60" fill="#b4e3fb"/><rect x="461.62" y="14.90" width="1.30" height="203.60" fill="#b4e3fb"/><rect x="462.62" y="14.90" width="1.30" height="203.60" fill="#b4e3fb"/><rect x="463.62" y="14.90" width="1.30" height="203.60" fill="#b4e3fb"/><rect x="464.62" y="14.90" width="1.30" height="203.60" fill="#b4e3fb"/><rect x="465.63" y="14.90" width="1.30" height="203.60" fill="#b4e3fb"/><rect x="466.63" y="14.90" width="1.30" height="203.60" fill="#b4e3fb"/><rect x="467.63" y="14.90" width="1.30" height="203.60" fill="#b4e3fb"/><rect x="468.63" y="14.90" width="1.30" height="203.60" fill="#b4e3fb"/><rect x="469.63" y="14.90" width="1.30" height="203.60" fill="#b4e3fb"/><rect x="470.63" y="14.90" width="1.30" height="203.60" fill="#b4e3fb"/><rect x="471.63" y="14.90" width="1.30" height="203.60" fill="#b4e3fb"/><rect x="472.63" y="14.90" width="1.30" height="203.60" fill="#b4e3fb"/><rect x="473.63" y="14.90" width="1.30" height="203.60" fill="#b4e3fb"/><rect x="474.63" y="14.90" width="1.30" height="203.60" fill="#b4e3fb"/><rect x="475.63" y="14.90" width="1.30" height="203.60" fill="#b4e3fb"/><rect x="476.63" y="14.90" width="1.30" height="203.60" fill="#b4e3fb"/><rect x="477.63" y="14.90" width="1.30" height="203.60" fill="#b4e3fb"/><rect x="478.63" y="14.90" width="1.30" height="203.60" fill="#b4e3fb"/><rect x="479.63" y="14.90" width="1.30" height="203.60" fill="#b4e3fb"/><rect x="480.63" y="14.90" width="1.30" height="203.60" fill="#b4e3fb"/><rect x="481.63" y="14.90" width="1.30" height="203.60" fill="#b4e3fb"/><rect x="482.63" y="14.90" width="1.30" height="203.60" fill="#b4e3fb"/><rect x="483.63" y="14.90" width="1.30" height="203.60" fill="#b4e3fb"/><rect x="484.63" y="14.90" width="1.30" height="203.60" fill="#b4e3fb"/><rect x="485.63" y="14.90" width="1.30" height="203.60" fill="#b4e3fb"/><rect x="486.63" y="14.90" width="1.30" height="203.60" fill="#b4e3fb"/><rect x="487.63" y="14.90" width="1.30" height="203.60" fill="#b4e3fb"/><rect x="488.63" y="14.90" width="1.30" height="203.60" fill="#b4e3fb"/><rect x="489.63" y="14.90" width="1.30" height="203.60" fill="#b4e3fb"/><rect x="490.64" y="14.90" width="1.30" height="203.60" fill="#b4e3fb"/><rect x="491.64" y="14.90" width="1.30" height="203.60" fill="#b4e3fb"/><rect x="492.64" y="14.90" width="1.30" height="203.60" fill="#b4e3fb"/><rect x="493.64" y="14.90" width="1.30" height="203.60" fill="#b4e3fb"/><rect x="494.64" y="14.90" width="1.30" height="203.60" fill="#b4e3fb"/><rect x="495.64" y="14.90" width="1.30" height="203.60" fill="#b4e3fb"/><rect x="496.64" y="14.90" width="1.30" height="203.60" fill="#b4e3fb"/><rect x="497.64" y="14.90" width="1.30" height="203.60" fill="#b4e3fb"/><rect x="498.64" y="14.90" width="1.30" height="203.60" fill="#b4e3fb"/><rect x="499.64" y="14.90" width="1.30" height="203.60" fill="#b4e3fb"/><rect x="500.64" y="14.90" width="1.30" height="203.60" fill="#b4e3fb"/><rect x="501.64" y="14.90" width="1.30" height="203.60" fill="#b4e3fb"/><rect x="502.64" y="14.90" width="1.30" height="203.60" fill="#b4e3fb"/><rect x="503.64" y="14.90" width="1.30" height="203.60" fill="#b4e3fb"/><rect x="504.64" y="14.90" width="1.30" height="203.60" fill="#b4e3fa"/><rect x="505.64" y="14.90" width="1.30" height="203.60" fill="url(#g103)"/><rect x="506.64" y="14.90" width="1.30" height="203.60" fill="url(#g104)"/><rect x="507.64" y="14.90" width="1.30" height="203.60" fill="url(#g105)"/><rect x="508.64" y="14.90" width="1.30" height="203.60" fill="url(#g106)"/><rect x="509.64" y="14.90" width="1.30" height="203.60" fill="url(#g107)"/><rect x="510.64" y="14.90" width="1.30" height="203.60" fill="url(#g108)"/><rect x="511.64" y="14.90" width="1.30" height="203.60" fill="url(#g109)"/><rect x="512.64" y="14.90" width="1.30" height="203.60" fill="url(#g110)"/><rect x="513.64" y="14.90" width="1.30" height="203.60" fill="url(#g111)"/><rect x="514.64" y="14.90" width="1.30" height="203.60" fill="url(#g112)"/><rect x="515.65" y="14.90" width="1.30" height="203.60" fill="url(#g113)"/><rect x="516.65" y="14.90" width="1.30" height="203.60" fill="url(#g114)"/><rect x="517.65" y="14.90" width="1.30" height="203.60" fill="url(#g115)"/><rect x="518.65" y="14.90" width="1.30" height="203.60" fill="url(#g116)"/><rect x="519.65" y="14.90" width="1.30" height="203.60" fill="url(#g117)"/><rect x="520.65" y="14.90" width="1.30" height="203.60" fill="url(#g118)"/><rect x="521.65" y="14.90" width="1.30" height="203.60" fill="url(#g119)"/><rect x="522.65" y="14.90" width="1.30" height="203.60" fill="url(#g120)"/><rect x="523.65" y="14.90" width="1.30" height="203.60" fill="url(#g121)"/><rect x="524.65" y="14.90" width="1.30" height="203.60" fill="url(#g122)"/><rect x="525.65" y="14.90" width="1.30" height="203.60" fill="url(#g123)"/><rect x="526.65" y="14.90" width="1.30" height="203.60" fill="url(#g124)"/><rect x="527.65" y="14.90" width="1.30" height="203.60" fill="url(#g125)"/><rect x="528.65" y="14.90" width="1.30" height="203.60" fill="url(#g126)"/><rect x="529.65" y="14.90" width="1.30" height="203.60" fill="url(#g127)"/><rect x="530.65" y="14.90" width="1.30" height="203.60" fill="url(#g128)"/><rect x="531.65" y="14.90" width="1.30" height="203.60" fill="url(#g129)"/><rect x="532.65" y="14.90" width="1.30" height="203.60" fill="url(#g130)"/><rect x="533.65" y="14.90" width="1.30" height="203.60" fill="url(#g131)"/><rect x="534.65" y="14.90" width="1.30" height="203.60" fill="url(#g132)"/><rect x="535.65" y="14.90" width="1.30" height="203.60" fill="url(#g133)"/><rect x="536.65" y="14.90" width="1.30" height="203.60" fill="#b4e3fa"/><rect x="537.65" y="14.90" width="1.30" height="203.60" fill="#b4e3fb"/><rect x="538.65" y="14.90" width="1.30" height="203.60" fill="#b4e3fb"/><rect x="539.65" y="14.90" width="1.30" height="203.60" fill="#b4e3fb"/><rect x="540.65" y="14.90" width="1.30" height="203.60" fill="#b4e3fb"/><rect x="541.66" y="14.90" width="1.30" height="203.60" fill="#b4e3fb"/><rect x="542.66" y="14.90" width="1.30" height="203.60" fill="#b4e3fb"/><rect x="543.66" y="14.90" width="1.30" height="203.60" fill="#b4e3fb"/><rect x="544.66" y="14.90" width="1.30" height="203.60" fill="#b4e3fb"/><rect x="545.66" y="14.90" width="1.30" height="203.60" fill="#b4e3fb"/><rect x="546.66" y="14.90" width="1.30" height="203.60" fill="#b4e3fb"/><rect x="547.66" y="14.90" width="1.30" height="203.60" fill="#b4e3fb"/><rect x="548.66" y="14.90" width="1.30" height="203.60" fill="#b4e3fb"/><rect x="549.66" y="14.90" width="1.30" height="203.60" fill="#b4e3fb"/><rect x="550.66" y="14.90" width="1.30" height="203.60" fill="#b4e3fb"/><rect x="551.66" y="14.90" width="1.30" height="203.60" fill="#b4e3fb"/><rect x="552.66" y="14.90" width="1.30" height="203.60" fill="#b4e3fb"/><rect x="553.66" y="14.90" width="1.30" height="203.60" fill="#b4e3fb"/><rect x="554.66" y="14.90" width="1.30" height="203.60" fill="#b4e3fb"/><rect x="555.66" y="14.90" width="1.30" height="203.60" fill="#b4e3fb"/><rect x="556.66" y="14.90" width="1.30" height="203.60" fill="#b4e3fb"/><rect x="557.66" y="14.90" width="1.30" height="203.60" fill="#b4e3fb"/><rect x="558.66" y="14.90" width="1.30" height="203.60" fill="#b4e3fb"/><rect x="559.66" y="14.90" width="1.30" height="203.60" fill="#b4e3fb"/><rect x="560.66" y="14.90" width="1.30" height="203.60" fill="#b4e3fb"/><rect x="561.66" y="14.90" width="1.30" height="203.60" fill="#b4e3fb"/><rect x="562.66" y="14.90" width="1.30" height="203.60" fill="#b4e3fb"/><rect x="563.66" y="14.90" width="1.30" height="203.60" fill="#b4e3fb"/><rect x="564.66" y="14.90" width="1.30" height="203.60" fill="#b4e3fb"/><rect x="565.66" y="14.90" width="1.30" height="203.60" fill="#b4e3fb"/><rect x="566.67" y="14.90" width="1.30" height="203.60" fill="#b4e3fb"/><rect x="567.67" y="14.90" width="1.30" height="203.60" fill="#b4e3fb"/><rect x="568.67" y="14.90" width="1.30" height="203.60" fill="#b4e3fb"/><rect x="569.67" y="14.90" width="1.30" height="203.60" fill="#b4e3fb"/><rect x="570.67" y="14.90" width="1.30" height="203.60" fill="#b4e3fb"/><rect x="571.67" y="14.90" width="1.30" height="203.60" fill="#b4e3fb"/><rect x="572.67" y="14.90" width="1.30" height="203.60" fill="#b4e3fb"/><rect x="573.67" y="14.90" width="1.30" height="203.60" fill="#b4e3fb"/><rect x="574.67" y="14.90" width="1.30" height="203.60" fill="#b4e3fb"/><rect x="575.67" y="14.90" width="1.30" height="203.60" fill="#b4e3fb"/><rect x="576.67" y="14.90" width="1.30" height="203.60" fill="#b4e3fb"/><rect x="577.67" y="14.90" width="1.30" height="203.60" fill="#b4e3fb"/><rect x="578.67" y="14.90" width="1.30" height="203.60" fill="#b4e3fb"/><rect x="579.67" y="14.90" width="1.30" height="203.60" fill="#b4e3fb"/><rect x="580.67" y="14.90" width="1.30" height="203.60" fill="#b4e3fb"/><rect x="581.67" y="14.90" width="1.30" height="203.60" fill="#b4e3fb"/><rect x="582.67" y="14.90" width="1.30" height="203.60" fill="#b4e3fb"/><rect x="583.67" y="14.90" width="1.30" height="203.60" fill="#b4e3fb"/><rect x="584.67" y="14.90" width="1.30" height="203.60" fill="#b4e3fb"/><rect x="585.67" y="14.90" width="1.30" height="203.60" fill="#b4e3fb"/><rect x="586.67" y="14.90" width="1.30" height="203.60" fill="#b4e3fb"/><rect x="587.67" y="14.90" width="1.30" height="203.60" fill="#b4e3fb"/><rect x="588.67" y="14.90" width="1.30" height="203.60" fill="#b4e3fb"/><rect x="589.67" y="14.90" width="1.30" height="203.60" fill="#b4e3fb"/><rect x="590.67" y="14.90" width="1.30" height="203.60" fill="#b4e3fb"/><rect x="591.68" y="14.90" width="1.30" height="203.60" fill="#b4e3fb"/><rect x="592.68" y="14.90" width="1.30" height="203.60" fill="#b4e3fb"/><rect x="593.68" y="14.90" width="1.30" height="203.60" fill="#b4e3fb"/><rect x="594.68" y="14.90" width="1.30" height="203.60" fill="#b4e3fb"/><rect x="595.68" y="14.90" width="1.30" height="203.60" fill="#b4e3fb"/><rect x="596.68" y="14.90" width="1.30" height="203.60" fill="#b4e3fb"/><rect x="597.68" y="14.90" width="1.30" height="203.60" fill="#b4e3fb"/><rect x="598.68" y="14.90" width="1.30" height="203.60" fill="#b4e3fb"/><rect x="599.68" y="14.90" width="1.30" height="203.60" fill="#b4e3fb"/><rect x="600.68" y="14.90" width="1.30" height="203.60" fill="#b4e3fb"/><rect x="601.68" y="14.90" width="1.30" height="203.60" fill="#b4e3fb"/><rect x="602.68" y="14.90" width="1.30" height="203.60" fill="#b4e3fb"/><rect x="603.68" y="14.90" width="1.30" height="203.60" fill="#b4e3fb"/><rect x="604.68" y="14.90" width="1.30" height="203.60" fill="#b4e3fb"/><rect x="605.68" y="14.90" width="1.30" height="203.60" fill="#b4e3fb"/><rect x="606.68" y="14.90" width="1.30" height="203.60" fill="#b4e3fb"/><rect x="607.68" y="14.90" width="1.30" height="203.60" fill="#b4e3fb"/><rect x="608.68" y="14.90" width="1.30" height="203.60" fill="#b4e3fb"/><rect x="609.68" y="14.90" width="1.30" height="203.60" fill="#b4e3fb"/><rect x="610.68" y="14.90" width="1.30" height="203.60" fill="#b4e3fb"/><rect x="611.68" y="14.90" width="1.30" height="203.60" fill="#b4e3fb"/><rect x="612.68" y="14.90" width="1.30" height="203.60" fill="#b4e3fb"/><rect x="613.68" y="14.90" width="1.30" height="203.60" fill="#b4e3fb"/><rect x="614.68" y="14.90" width="1.30" height="203.60" fill="#b4e3fb"/><rect x="615.68" y="14.90" width="1.30" height="203.60" fill="#b4e3fb"/><rect x="616.69" y="14.90" width="1.30" height="203.60" fill="#b4e3fb"/><rect x="617.69" y="14.90" width="1.30" height="203.60" fill="#b4e3fb"/><rect x="618.69" y="14.90" width="1.30" height="203.60" fill="#b4e3fb"/><rect x="619.69" y="14.90" width="1.30" height="203.60" fill="#b4e3fb"/><rect x="620.69" y="14.90" width="1.30" height="203.60" fill="#b4e3fb"/><rect x="621.69" y="14.90" width="1.30" height="203.60" fill="#b4e3fb"/><rect x="622.69" y="14.90" width="1.30" height="203.60" fill="#b4e3fb"/><rect x="623.69" y="14.90" width="1.30" height="203.60" fill="#b4e3fb"/><rect x="624.69" y="14.90" width="1.30" height="203.60" fill="#b4e3fb"/><rect x="625.69" y="14.90" width="1.30" height="203.60" fill="#b4e3fb"/><rect x="626.69" y="14.90" width="1.30" height="203.60" fill="#b4e3fb"/><rect x="627.69" y="14.90" width="1.30" height="203.60" fill="#b4e3fb"/><rect x="628.69" y="14.90" width="1.30" height="203.60" fill="url(#g134)"/><rect x="629.69" y="14.90" width="1.30" height="203.60" fill="url(#g135)"/><rect x="630.69" y="14.90" width="1.30" height="203.60" fill="url(#g136)"/><rect x="631.69" y="14.90" width="1.30" height="203.60" fill="url(#g137)"/><rect x="632.69" y="14.90" width="1.30" height="203.60" fill="url(#g138)"/><rect x="633.69" y="14.90" width="1.30" height="203.60" fill="url(#g139)"/><rect x="634.69" y="14.90" width="1.30" height="203.60" fill="url(#g140)"/><rect x="635.69" y="14.90" width="1.30" height="203.60" fill="url(#g141)"/><rect x="636.69" y="14.90" width="1.30" height="203.60" fill="url(#g142)"/><rect x="637.69" y="14.90" width="1.30" height="203.60" fill="url(#g143)"/><rect x="638.69" y="14.90" width="1.30" height="203.60" fill="url(#g144)"/><rect x="639.69" y="14.90" width="1.30" height="203.60" fill="url(#g145)"/><rect x="640.69" y="14.90" width="1.30" height="203.60" fill="#b4e3fb"/><rect x="641.70" y="14.90" width="1.30" height="203.60" fill="#b4e3fb"/><rect x="642.70" y="14.90" width="1.30" height="203.60" fill="#b4e3fb"/><rect x="643.70" y="14.90" width="1.30" height="203.60" fill="#b4e3fb"/><rect x="644.70" y="14.90" width="1.30" height="203.60" fill="#b4e3fb"/><rect x="645.70" y="14.90" width="1.30" height="203.60" fill="#b4e3fb"/><rect x="646.70" y="14.90" width="1.30" height="203.60" fill="#b4e3fb"/><rect x="647.70" y="14.90" width="1.30" height="203.60" fill="#b4e3fb"/><rect x="648.70" y="14.90" width="1.30" height="203.60" fill="#b4e3fb"/><rect x="649.70" y="14.90" width="1.30" height="203.60" fill="#b4e3fb"/><rect x="650.70" y="14.90" width="1.30" height="203.60" fill="#b4e3fb"/><rect x="651.70" y="14.90" width="1.30" height="203.60" fill="#b4e3fb"/><rect x="652.70" y="14.90" width="1.30" height="203.60" fill="#b4e3fb"/>
<text x="427.8" y="171.2" font-size="9.8" text-anchor="start" fill="#111" >Ir-Cl</text>
<text x="511.6" y="161.0" font-size="9.8" text-anchor="start" fill="#111" >Ir-Cl</text>
<rect x="402.60" y="14.90" width="251.10" height="203.60" fill="none" stroke="#000" stroke-width="1.7"/>
<line x1="398.60" y1="14.90" x2="402.60" y2="14.90" stroke="#000" stroke-width="1.3" />
<line x1="400.10" y1="48.83" x2="402.60" y2="48.83" stroke="#000" stroke-width="1.3" />
<line x1="398.60" y1="82.77" x2="402.60" y2="82.77" stroke="#000" stroke-width="1.3" />
<line x1="400.10" y1="116.70" x2="402.60" y2="116.70" stroke="#000" stroke-width="1.3" />
<line x1="398.60" y1="150.63" x2="402.60" y2="150.63" stroke="#000" stroke-width="1.3" />
<line x1="400.10" y1="184.57" x2="402.60" y2="184.57" stroke="#000" stroke-width="1.3" />
<line x1="398.60" y1="218.50" x2="402.60" y2="218.50" stroke="#000" stroke-width="1.3" />
<text x="395.2" y="19.5" font-size="12.9" text-anchor="end" fill="#1a1a1a" >2.1</text>
<text x="395.2" y="87.4" font-size="12.9" text-anchor="end" fill="#1a1a1a" >1.8</text>
<text x="395.2" y="155.2" font-size="12.9" text-anchor="end" fill="#1a1a1a" >1.5</text>
<text x="396.8" y="221.1" font-size="13.4" text-anchor="end" fill="#1a1a1a" >OCP</text>
<line x1="402.60" y1="218.50" x2="402.60" y2="222.50" stroke="#000" stroke-width="1.3" />
<line x1="427.71" y1="218.50" x2="427.71" y2="221.00" stroke="#000" stroke-width="1.3" />
<line x1="452.82" y1="218.50" x2="452.82" y2="222.50" stroke="#000" stroke-width="1.3" />
<line x1="477.93" y1="218.50" x2="477.93" y2="221.00" stroke="#000" stroke-width="1.3" />
<line x1="503.04" y1="218.50" x2="503.04" y2="222.50" stroke="#000" stroke-width="1.3" />
<line x1="528.15" y1="218.50" x2="528.15" y2="221.00" stroke="#000" stroke-width="1.3" />
<line x1="553.26" y1="218.50" x2="553.26" y2="222.50" stroke="#000" stroke-width="1.3" />
<line x1="578.37" y1="218.50" x2="578.37" y2="221.00" stroke="#000" stroke-width="1.3" />
<line x1="603.48" y1="218.50" x2="603.48" y2="222.50" stroke="#000" stroke-width="1.3" />
<line x1="628.59" y1="218.50" x2="628.59" y2="221.00" stroke="#000" stroke-width="1.3" />
<line x1="653.70" y1="218.50" x2="653.70" y2="222.50" stroke="#000" stroke-width="1.3" />
<text x="402.6" y="236.2" font-size="13" text-anchor="middle" fill="#1a1a1a" >100</text>
<text x="452.8" y="236.2" font-size="13" text-anchor="middle" fill="#1a1a1a" >200</text>
<text x="503.0" y="236.2" font-size="13" text-anchor="middle" fill="#1a1a1a" >300</text>
<text x="553.3" y="236.2" font-size="13" text-anchor="middle" fill="#1a1a1a" >400</text>
<text x="603.5" y="236.2" font-size="13" text-anchor="middle" fill="#1a1a1a" >500</text>
<text x="653.7" y="236.2" font-size="13" text-anchor="middle" fill="#1a1a1a" >600</text>
<text x="529.2" y="253.5" font-size="13.4" text-anchor="middle" fill="#1a1a1a">Raman Shift (cm<tspan font-size="9.5" dy="-5">-1</tspan><tspan dy="5">)</tspan></text>
<text transform="translate(369.1,116.4) rotate(-90)" font-size="13.25" text-anchor="middle" fill="#1a1a1a">Potential (V) vs. RHE</text>
<defs><linearGradient id="cbb" x1="0" y1="0" x2="0" y2="1"><stop offset="0.000" stop-color="#f76b6f"/><stop offset="0.250" stop-color="#fc9458"/><stop offset="0.460" stop-color="#fdbb45"/><stop offset="0.670" stop-color="#d8cc95"/><stop offset="0.850" stop-color="#c2dcdc"/><stop offset="1.000" stop-color="#b6e1f8"/></linearGradient></defs>
<rect x="662.7" y="14.9" width="4.7" height="204.0" fill="url(#cbb)"/>
<text transform="translate(675.6,120.6) rotate(90)" font-size="13.3" text-anchor="middle" fill="#1a1a1a">Intensity (a.u.)</text>
<text x="357.5" y="14.6" font-size="20" font-weight="bold" text-anchor="start" fill="#000" >b</text>
<defs><clipPath id="clc"><rect x="54.4" y="275.5" width="251.79999999999998" height="203.8"/></clipPath></defs>
<g clip-path="url(#clc)">
<path d="M54.40,473.20 C55.50,472.97 58.43,471.97 61.00,471.80 C63.57,471.63 66.58,472.48 69.80,472.20 C73.02,471.92 76.80,470.68 80.30,470.10 C83.80,469.52 87.60,469.35 90.80,468.70 C94.00,468.05 96.30,467.28 99.50,466.20 C102.70,465.12 106.78,463.45 110.00,462.20 C113.22,460.95 116.17,460.30 118.80,458.70 C121.43,457.10 123.47,455.08 125.80,452.60 C128.13,450.12 130.17,447.32 132.80,443.80 C135.43,440.28 138.97,435.88 141.60,431.50 C144.23,427.12 146.55,422.17 148.60,417.50 C150.65,412.83 151.50,411.75 153.90,403.50 C156.30,395.25 160.15,378.42 163.00,368.00 C165.85,357.58 168.33,349.83 171.00,341.00 C173.67,332.17 176.33,322.33 179.00,315.00 C181.67,307.67 184.50,300.50 187.00,297.00 C189.50,293.50 191.17,293.58 194.00,294.00 C196.83,294.42 200.22,294.42 204.00,299.50 C207.78,304.58 212.83,316.83 216.70,324.50 C220.57,332.17 223.70,338.75 227.20,345.50 C230.70,352.25 234.20,359.50 237.70,365.00 C241.20,370.50 245.13,375.08 248.20,378.50 C251.27,381.92 253.03,383.83 256.10,385.50 C259.17,387.17 262.22,387.83 266.60,388.50 C270.98,389.17 277.13,389.08 282.40,389.50 C287.67,389.92 294.27,390.92 298.20,391.00 C302.13,391.08 304.70,390.17 306.00,390.00" fill="none" stroke="#111" stroke-width="1.6" stroke-linejoin="round" stroke-linecap="round"/>
<path d="M54.40,477.50 C55.50,477.33 58.15,477.00 61.00,476.50 C63.85,476.00 68.33,475.03 71.50,474.50 C74.67,473.97 77.08,473.75 80.00,473.30 C82.92,472.85 85.75,472.48 89.00,471.80 C92.25,471.12 95.70,470.42 99.50,469.20 C103.30,467.98 108.28,466.40 111.80,464.50 C115.32,462.60 117.68,460.67 120.60,457.80 C123.52,454.93 126.38,451.10 129.30,447.30 C132.22,443.50 135.17,439.38 138.10,435.00 C141.03,430.62 144.27,426.10 146.90,421.00 C149.53,415.90 151.02,413.45 153.90,404.40 C156.78,395.35 161.18,377.37 164.20,366.70 C167.22,356.03 169.38,349.15 172.00,340.40 C174.62,331.65 177.27,321.63 179.90,314.20 C182.53,306.77 185.78,299.25 187.80,295.80 C189.82,292.35 190.80,293.92 192.00,293.50 C193.20,293.08 192.85,292.27 195.00,293.30 C197.15,294.33 201.28,294.47 204.90,299.70 C208.52,304.93 212.98,317.03 216.70,324.70 C220.42,332.37 223.70,338.92 227.20,345.70 C230.70,352.48 234.20,359.93 237.70,365.40 C241.20,370.87 245.13,375.30 248.20,378.50 C251.27,381.70 253.03,382.98 256.10,384.60 C259.17,386.22 262.22,387.47 266.60,388.20 C270.98,388.93 277.13,388.63 282.40,389.00 C287.67,389.37 294.27,390.40 298.20,390.40 C302.13,390.40 304.70,389.23 306.00,389.00" fill="none" stroke="#2b45f0" stroke-width="1.8" stroke-linejoin="round" stroke-linecap="round"/>
<path d="M54.40,475.30 C57.25,475.02 65.73,474.32 71.50,473.60 C77.27,472.88 84.33,472.23 89.00,471.00 C93.67,469.77 95.70,467.67 99.50,466.20 C103.30,464.73 108.00,463.88 111.80,462.20 C115.60,460.52 119.08,458.58 122.30,456.10 C125.52,453.62 127.88,451.25 131.10,447.30 C134.32,443.35 138.38,437.52 141.60,432.40 C144.82,427.28 148.07,421.42 150.40,416.60 C152.73,411.78 153.00,411.77 155.60,403.50 C158.20,395.23 162.93,377.58 166.00,367.00 C169.07,356.42 171.33,348.83 174.00,340.00 C176.67,331.17 179.50,321.00 182.00,314.00 C184.50,307.00 186.83,301.17 189.00,298.00 C191.17,294.83 192.33,294.75 195.00,295.00 C197.67,295.25 201.38,294.83 205.00,299.50 C208.62,304.17 213.00,315.58 216.70,323.00 C220.40,330.42 223.70,337.33 227.20,344.00 C230.70,350.67 234.20,357.67 237.70,363.00 C241.20,368.33 245.13,372.83 248.20,376.00 C251.27,379.17 253.03,380.33 256.10,382.00 C259.17,383.67 262.22,384.92 266.60,386.00 C270.98,387.08 277.13,387.92 282.40,388.50 C287.67,389.08 294.27,389.67 298.20,389.50 C302.13,389.33 304.70,387.83 306.00,387.50" fill="none" stroke="#f66f6f" stroke-width="1.6" stroke-linejoin="round" stroke-linecap="round"/>
</g>
<rect x="54.40" y="275.50" width="251.80" height="203.80" fill="none" stroke="#000" stroke-width="1.7"/>
<line x1="50.40" y1="476.90" x2="54.40" y2="476.90" stroke="#000" stroke-width="1.3" />
<line x1="50.40" y1="430.50" x2="54.40" y2="430.50" stroke="#000" stroke-width="1.3" />
<line x1="50.40" y1="384.10" x2="54.40" y2="384.10" stroke="#000" stroke-width="1.3" />
<line x1="50.40" y1="337.70" x2="54.40" y2="337.70" stroke="#000" stroke-width="1.3" />
<line x1="50.40" y1="291.30" x2="54.40" y2="291.30" stroke="#000" stroke-width="1.3" />
<line x1="51.90" y1="453.70" x2="54.40" y2="453.70" stroke="#000" stroke-width="1.3" />
<line x1="51.90" y1="407.30" x2="54.40" y2="407.30" stroke="#000" stroke-width="1.3" />
<line x1="51.90" y1="360.90" x2="54.40" y2="360.90" stroke="#000" stroke-width="1.3" />
<line x1="51.90" y1="314.50" x2="54.40" y2="314.50" stroke="#000" stroke-width="1.3" />
<text x="47.6" y="481.2" font-size="12.2" text-anchor="end" fill="#1a1a1a" >0.0</text>
<text x="47.6" y="434.8" font-size="12.2" text-anchor="end" fill="#1a1a1a" >0.4</text>
<text x="47.6" y="388.4" font-size="12.2" text-anchor="end" fill="#1a1a1a" >0.8</text>
<text x="47.6" y="342.0" font-size="12.2" text-anchor="end" fill="#1a1a1a" >1.2</text>
<text x="47.6" y="295.6" font-size="12.2" text-anchor="end" fill="#1a1a1a" >1.6</text>
<line x1="88.43" y1="479.30" x2="88.43" y2="483.30" stroke="#000" stroke-width="1.3" />
<text x="88.4" y="496.3" font-size="12.2" text-anchor="middle" fill="#1a1a1a" >11200</text>
<line x1="156.48" y1="479.30" x2="156.48" y2="483.30" stroke="#000" stroke-width="1.3" />
<text x="156.5" y="496.3" font-size="12.2" text-anchor="middle" fill="#1a1a1a" >11210</text>
<line x1="224.54" y1="479.30" x2="224.54" y2="483.30" stroke="#000" stroke-width="1.3" />
<text x="224.5" y="496.3" font-size="12.2" text-anchor="middle" fill="#1a1a1a" >11220</text>
<line x1="292.59" y1="479.30" x2="292.59" y2="483.30" stroke="#000" stroke-width="1.3" />
<text x="292.6" y="496.3" font-size="12.2" text-anchor="middle" fill="#1a1a1a" >11230</text>
<line x1="54.40" y1="479.30" x2="54.40" y2="481.80" stroke="#000" stroke-width="1.3" />
<line x1="122.45" y1="479.30" x2="122.45" y2="481.80" stroke="#000" stroke-width="1.3" />
<line x1="190.51" y1="479.30" x2="190.51" y2="481.80" stroke="#000" stroke-width="1.3" />
<line x1="258.56" y1="479.30" x2="258.56" y2="481.80" stroke="#000" stroke-width="1.3" />
<text x="180.8" y="510.8" font-size="12.4" text-anchor="middle" fill="#1a1a1a" >Energy (eV)</text>
<text transform="translate(23.2,377.9) rotate(-90)" font-size="12.65" text-anchor="middle" fill="#1a1a1a">Normalized Intensity (a.u.)</text>
<text x="1.0" y="278.8" font-size="20" font-weight="bold" text-anchor="start" fill="#000" >c</text>
<line x1="59.80" y1="284.40" x2="77.00" y2="284.40" stroke="#111" stroke-width="2.2" />
<text x="80" y="287.8" font-size="9.6" fill="#1a1a1a">IrO<tspan font-size="6.4" dy="2.2" font-style="italic">x</tspan><tspan dy="-2.2"> (OCP)</tspan></text>
<line x1="59.80" y1="298.20" x2="77.00" y2="298.20" stroke="#2b45f0" stroke-width="2.2" />
<text x="80" y="301.6" font-size="9.6" fill="#1a1a1a">IrO<tspan font-size="6.4" dy="2.2" font-style="italic">x</tspan><tspan dy="-2.2"> (1.6 V)</tspan></text>
<line x1="59.80" y1="312.00" x2="77.00" y2="312.00" stroke="#f66f6f" stroke-width="2.2" />
<text x="80" y="315.4" font-size="9.6" fill="#1a1a1a">IrO<tspan font-size="6.4" dy="2.2" font-style="italic">x</tspan><tspan dy="-2.2"> (2.1 V)</tspan></text>
<rect x="69.6" y="335.1" width="62.7" height="94.1" fill="#fff"/>
<defs><clipPath id="cli"><rect x="69.6" y="335.1" width="62.7" height="94.1"/></clipPath></defs>
<g clip-path="url(#cli)">
<path d="M69.60,426.00 C71.37,422.67 76.67,412.53 80.20,406.00 C83.73,399.47 87.28,392.88 90.80,386.80 C94.32,380.72 98.17,373.88 101.30,369.50 C104.43,365.12 107.08,362.37 109.60,360.50 C112.12,358.63 114.00,358.35 116.40,358.30 C118.80,358.25 121.35,359.32 124.00,360.20 C126.65,361.08 130.92,363.03 132.30,363.60" fill="none" stroke="#111" stroke-width="1.0" stroke-linejoin="round" stroke-linecap="round"/>
<path d="M69.60,423.90 C71.37,420.50 76.67,409.92 80.20,403.50 C83.73,397.08 87.28,391.18 90.80,385.40 C94.32,379.62 98.17,373.13 101.30,368.80 C104.43,364.47 107.08,361.28 109.60,359.40 C112.12,357.52 114.00,357.40 116.40,357.50 C118.80,357.60 121.35,359.00 124.00,360.00 C126.65,361.00 130.92,362.92 132.30,363.50" fill="none" stroke="#2b45f0" stroke-width="1.4" stroke-linejoin="round" stroke-linecap="round"/>
<path d="M70.40,429.20 C72.03,425.93 76.80,416.40 80.20,409.60 C83.60,402.80 87.28,394.95 90.80,388.40 C94.32,381.85 98.17,374.83 101.30,370.30 C104.43,365.77 107.08,363.08 109.60,361.20 C112.12,359.32 114.00,359.15 116.40,359.00 C118.80,358.85 121.35,359.50 124.00,360.30 C126.65,361.10 130.92,363.22 132.30,363.80" fill="none" stroke="#f66f6f" stroke-width="0.9" stroke-linejoin="round" stroke-linecap="round"/>
</g>
<rect x="69.6" y="335.1" width="62.7" height="94.1" fill="none" stroke="#222" stroke-width="1.3"/>
<text x="68.2" y="337.7" font-size="8.7" text-anchor="end" fill="#333" >1.8</text>
<line x1="69.60" y1="335.10" x2="72.10" y2="335.10" stroke="#222" stroke-width="1.0" />
<text x="68.2" y="369.1" font-size="8.7" text-anchor="end" fill="#333" >1.5</text>
<line x1="69.60" y1="366.47" x2="72.10" y2="366.47" stroke="#222" stroke-width="1.0" />
<text x="68.2" y="400.4" font-size="8.7" text-anchor="end" fill="#333" >1.2</text>
<line x1="69.60" y1="397.83" x2="72.10" y2="397.83" stroke="#222" stroke-width="1.0" />
<text x="68.2" y="431.8" font-size="8.7" text-anchor="end" fill="#333" >0.9</text>
<line x1="69.60" y1="429.20" x2="72.10" y2="429.20" stroke="#222" stroke-width="1.0" />
<text x="69.6" y="437.9" font-size="8.7" text-anchor="middle" fill="#333" >11211</text>
<line x1="69.60" y1="429.20" x2="69.60" y2="426.70" stroke="#222" stroke-width="1.0" />
<text x="101.0" y="437.9" font-size="8.7" text-anchor="middle" fill="#333" >11214</text>
<line x1="100.95" y1="429.20" x2="100.95" y2="426.70" stroke="#222" stroke-width="1.0" />
<text x="132.3" y="437.9" font-size="8.7" text-anchor="middle" fill="#333" >11217</text>
<line x1="132.30" y1="429.20" x2="132.30" y2="426.70" stroke="#222" stroke-width="1.0" />
<defs><clipPath id="cld"><rect x="405.6" y="275.3" width="251.5" height="203.9"/></clipPath></defs>
<g clip-path="url(#cld)">
<path d="M405.60,479.50 C406.67,479.33 408.88,479.13 412.00,478.50 C415.12,477.87 420.22,476.17 424.30,475.70 C428.38,475.23 432.13,475.62 436.50,475.70 C440.87,475.78 446.12,476.40 450.50,476.20 C454.88,476.00 458.72,475.37 462.80,474.50 C466.88,473.63 471.20,472.90 475.00,471.00 C478.80,469.10 482.08,466.47 485.60,463.10 C489.12,459.73 493.18,454.32 496.10,450.80 C499.02,447.28 500.45,446.47 503.10,442.00 C505.75,437.53 509.02,431.25 512.00,424.00 C514.98,416.75 518.08,407.33 521.00,398.50 C523.92,389.67 526.67,380.17 529.50,371.00 C532.33,361.83 535.37,352.33 538.00,343.50 C540.63,334.67 543.38,324.75 545.30,318.00 C547.22,311.25 548.10,307.23 549.50,303.00 C550.90,298.77 551.78,295.38 553.70,292.60 C555.62,289.82 558.90,286.93 561.00,286.30 C563.10,285.67 564.37,287.40 566.30,288.80 C568.23,290.20 570.82,292.33 572.60,294.70 C574.38,297.07 574.43,297.45 577.00,303.00 C579.57,308.55 584.40,319.33 588.00,328.00 C591.60,336.67 594.60,346.17 598.60,355.00 C602.60,363.83 607.97,374.57 612.00,381.00 C616.03,387.43 619.65,390.60 622.80,393.60 C625.95,396.60 627.75,397.75 630.90,399.00 C634.05,400.25 637.35,400.65 641.70,401.10 C646.05,401.55 654.45,401.60 657.00,401.70" fill="none" stroke="#333" stroke-width="1.3" stroke-linejoin="round" stroke-linecap="round"/>
<path d="M405.60,478.00 C407.25,478.13 411.22,478.95 415.50,478.80 C419.78,478.65 427.22,477.62 431.30,477.10 C435.38,476.58 436.80,475.70 440.00,475.70 C443.20,475.70 447.00,477.30 450.50,477.10 C454.00,476.90 457.20,475.67 461.00,474.50 C464.80,473.33 470.08,472.00 473.30,470.10 C476.52,468.20 478.10,465.43 480.30,463.10 C482.50,460.77 483.57,458.73 486.50,456.10 C489.43,453.47 495.12,450.15 497.90,447.30 C500.68,444.45 500.92,443.02 503.20,439.00 C505.48,434.98 508.63,430.05 511.60,423.20 C514.57,416.35 518.02,406.68 521.00,397.90 C523.98,389.12 526.68,379.62 529.50,370.50 C532.32,361.38 535.27,351.97 537.90,343.20 C540.53,334.43 542.85,325.63 545.30,317.90 C547.75,310.17 550.48,301.70 552.60,296.80 C554.72,291.90 556.60,290.42 558.00,288.50 C559.40,286.58 559.50,285.83 561.00,285.30 C562.50,284.77 565.50,284.52 567.00,285.30 C568.50,286.08 568.88,288.08 570.00,290.00 C571.12,291.92 572.03,293.38 573.70,296.80 C575.37,300.22 577.65,305.15 580.00,310.50 C582.35,315.85 584.70,321.35 587.80,328.90 C590.90,336.45 594.57,347.27 598.60,355.80 C602.63,364.33 607.52,373.80 612.00,380.10 C616.48,386.40 620.55,390.00 625.50,393.60 C630.45,397.20 636.45,400.00 641.70,401.70 C646.95,403.40 654.45,403.45 657.00,403.80" fill="none" stroke="#2b45f0" stroke-width="1.8" stroke-linejoin="round" stroke-linecap="round"/>
<path d="M405.60,479.00 C407.25,478.83 412.10,478.32 415.50,478.00 C418.90,477.68 421.92,477.60 426.00,477.10 C430.08,476.60 435.92,475.88 440.00,475.00 C444.08,474.12 447.00,472.68 450.50,471.80 C454.00,470.92 456.92,471.00 461.00,469.70 C465.08,468.40 471.20,465.68 475.00,464.00 C478.80,462.32 480.87,461.37 483.80,459.60 C486.73,457.83 489.57,456.67 492.60,453.40 C495.63,450.13 499.37,445.03 502.00,440.00 C504.63,434.97 505.57,430.22 508.40,423.20 C511.23,416.18 515.83,406.68 519.00,397.90 C522.17,389.12 524.60,379.62 527.40,370.50 C530.20,361.38 533.00,352.15 535.80,343.20 C538.60,334.25 541.57,324.17 544.20,316.80 C546.83,309.43 549.63,302.72 551.60,299.00 C553.57,295.28 554.43,295.50 556.00,294.50 C557.57,293.50 559.10,292.78 561.00,293.00 C562.90,293.22 565.28,294.28 567.40,295.80 C569.52,297.32 571.60,299.07 573.70,302.10 C575.80,305.13 577.65,309.08 580.00,314.00 C582.35,318.92 584.70,324.63 587.80,331.60 C590.90,338.57 594.57,347.95 598.60,355.80 C602.63,363.65 607.52,372.85 612.00,378.70 C616.48,384.55 620.55,387.30 625.50,390.90 C630.45,394.50 636.45,398.60 641.70,400.30 C646.95,402.00 654.45,400.97 657.00,401.10" fill="none" stroke="#f66f6f" stroke-width="1.6" stroke-linejoin="round" stroke-linecap="round"/>
</g>
<rect x="405.60" y="275.30" width="251.50" height="203.90" fill="none" stroke="#000" stroke-width="1.7"/>
<line x1="401.60" y1="479.20" x2="405.60" y2="479.20" stroke="#000" stroke-width="1.3" />
<line x1="401.60" y1="438.40" x2="405.60" y2="438.40" stroke="#000" stroke-width="1.3" />
<line x1="401.60" y1="397.60" x2="405.60" y2="397.60" stroke="#000" stroke-width="1.3" />
<line x1="401.60" y1="356.80" x2="405.60" y2="356.80" stroke="#000" stroke-width="1.3" />
<line x1="401.60" y1="316.00" x2="405.60" y2="316.00" stroke="#000" stroke-width="1.3" />
<line x1="401.60" y1="275.20" x2="405.60" y2="275.20" stroke="#000" stroke-width="1.3" />
<line x1="403.10" y1="458.80" x2="405.60" y2="458.80" stroke="#000" stroke-width="1.3" />
<line x1="403.10" y1="418.00" x2="405.60" y2="418.00" stroke="#000" stroke-width="1.3" />
<line x1="403.10" y1="377.20" x2="405.60" y2="377.20" stroke="#000" stroke-width="1.3" />
<line x1="403.10" y1="336.40" x2="405.60" y2="336.40" stroke="#000" stroke-width="1.3" />
<line x1="403.10" y1="295.60" x2="405.60" y2="295.60" stroke="#000" stroke-width="1.3" />
<text x="398.8" y="483.5" font-size="12.2" text-anchor="end" fill="#1a1a1a" >0.0</text>
<text x="398.8" y="442.7" font-size="12.2" text-anchor="end" fill="#1a1a1a" >0.4</text>
<text x="398.8" y="401.9" font-size="12.2" text-anchor="end" fill="#1a1a1a" >0.8</text>
<text x="398.8" y="361.1" font-size="12.2" text-anchor="end" fill="#1a1a1a" >1.2</text>
<text x="398.8" y="320.3" font-size="12.2" text-anchor="end" fill="#1a1a1a" >1.6</text>
<text x="398.8" y="279.5" font-size="12.2" text-anchor="end" fill="#1a1a1a" >2.0</text>
<line x1="439.59" y1="479.20" x2="439.59" y2="483.20" stroke="#000" stroke-width="1.3" />
<text x="439.6" y="496.2" font-size="12.2" text-anchor="middle" fill="#1a1a1a" >11200</text>
<line x1="507.56" y1="479.20" x2="507.56" y2="483.20" stroke="#000" stroke-width="1.3" />
<text x="507.6" y="496.2" font-size="12.2" text-anchor="middle" fill="#1a1a1a" >11210</text>
<line x1="575.53" y1="479.20" x2="575.53" y2="483.20" stroke="#000" stroke-width="1.3" />
<text x="575.5" y="496.2" font-size="12.2" text-anchor="middle" fill="#1a1a1a" >11220</text>
<line x1="643.51" y1="479.20" x2="643.51" y2="483.20" stroke="#000" stroke-width="1.3" />
<text x="643.5" y="496.2" font-size="12.2" text-anchor="middle" fill="#1a1a1a" >11230</text>
<line x1="405.60" y1="479.20" x2="405.60" y2="481.70" stroke="#000" stroke-width="1.3" />
<line x1="473.57" y1="479.20" x2="473.57" y2="481.70" stroke="#000" stroke-width="1.3" />
<line x1="541.55" y1="479.20" x2="541.55" y2="481.70" stroke="#000" stroke-width="1.3" />
<line x1="609.52" y1="479.20" x2="609.52" y2="481.70" stroke="#000" stroke-width="1.3" />
<text x="531.9" y="512.4" font-size="12.4" text-anchor="middle" fill="#1a1a1a" >Energy (eV)</text>
<text transform="translate(370.8,374.2) rotate(-90)" font-size="12.17" text-anchor="middle" fill="#1a1a1a">Normalized Intensity (a.u.)</text>
<text x="357.4" y="279.6" font-size="20" font-weight="bold" text-anchor="start" fill="#000" >d</text>
<line x1="411.50" y1="287.60" x2="428.00" y2="287.60" stroke="#444" stroke-width="1.6" />
<text x="431" y="291.0" font-size="9.6" fill="#1a1a1a">Pt/IrO<tspan font-size="6.4" dy="2.2" font-style="italic">x</tspan><tspan dy="-2.2">-Ir (OCP)</tspan></text>
<line x1="411.50" y1="301.20" x2="428.00" y2="301.20" stroke="#2b45f0" stroke-width="1.6" />
<text x="431" y="304.6" font-size="9.6" fill="#1a1a1a">Pt/IrO<tspan font-size="6.4" dy="2.2" font-style="italic">x</tspan><tspan dy="-2.2">-Ir (1.6 V)</tspan></text>
<line x1="411.50" y1="314.80" x2="428.00" y2="314.80" stroke="#f66f6f" stroke-width="1.6" />
<text x="431" y="318.2" font-size="9.6" fill="#1a1a1a">Pt/IrO<tspan font-size="6.4" dy="2.2" font-style="italic">x</tspan><tspan dy="-2.2">-Ir (2.1 V)</tspan></text>
<rect x="424.3" y="331.9" width="65.7" height="101.1" fill="#fff"/>
<defs><clipPath id="clj"><rect x="424.3" y="331.9" width="65.7" height="101.1"/></clipPath></defs>
<g clip-path="url(#clj)">
<path d="M436.00,434.00 C438.50,429.58 445.67,416.67 451.00,407.50 C456.33,398.33 463.33,386.42 468.00,379.00 C472.67,371.58 475.33,367.25 479.00,363.00 C482.67,358.75 488.17,355.08 490.00,353.50" fill="none" stroke="#333" stroke-width="1.0" stroke-linejoin="round" stroke-linecap="round"/>
<path d="M437.00,434.00 C439.50,429.75 446.67,417.50 452.00,408.50 C457.33,399.50 464.50,387.08 469.00,380.00 C473.50,372.92 475.50,370.00 479.00,366.00 C482.50,362.00 488.17,357.67 490.00,356.00" fill="none" stroke="#2b45f0" stroke-width="1.4" stroke-linejoin="round" stroke-linecap="round"/>
<path d="M435.00,434.00 C437.50,429.50 444.67,416.25 450.00,407.00 C455.33,397.75 462.33,385.67 467.00,378.50 C471.67,371.33 474.17,367.50 478.00,364.00 C481.83,360.50 488.00,358.58 490.00,357.50" fill="none" stroke="#f66f6f" stroke-width="0.9" stroke-linejoin="round" stroke-linecap="round"/>
</g>
<rect x="424.3" y="331.9" width="65.7" height="101.1" fill="none" stroke="#222" stroke-width="1.3"/>
<text x="422.9" y="334.5" font-size="8.7" text-anchor="end" fill="#333" >2.1</text>
<line x1="424.30" y1="331.90" x2="426.80" y2="331.90" stroke="#222" stroke-width="1.0" />
<text x="422.9" y="359.8" font-size="8.7" text-anchor="end" fill="#333" >1.8</text>
<line x1="424.30" y1="357.17" x2="426.80" y2="357.17" stroke="#222" stroke-width="1.0" />
<text x="422.9" y="385.1" font-size="8.7" text-anchor="end" fill="#333" >1.5</text>
<line x1="424.30" y1="382.45" x2="426.80" y2="382.45" stroke="#222" stroke-width="1.0" />
<text x="422.9" y="410.3" font-size="8.7" text-anchor="end" fill="#333" >1.2</text>
<line x1="424.30" y1="407.73" x2="426.80" y2="407.73" stroke="#222" stroke-width="1.0" />
<text x="422.9" y="435.6" font-size="8.7" text-anchor="end" fill="#333" >0.9</text>
<line x1="424.30" y1="433.00" x2="426.80" y2="433.00" stroke="#222" stroke-width="1.0" />
<text x="424.3" y="441.7" font-size="8.7" text-anchor="middle" fill="#333" >11211</text>
<line x1="424.30" y1="433.00" x2="424.30" y2="430.50" stroke="#222" stroke-width="1.0" />
<text x="457.1" y="441.7" font-size="8.7" text-anchor="middle" fill="#333" >11214</text>
<line x1="457.15" y1="433.00" x2="457.15" y2="430.50" stroke="#222" stroke-width="1.0" />
<text x="490.0" y="441.7" font-size="8.7" text-anchor="middle" fill="#333" >11217</text>
<line x1="490.00" y1="433.00" x2="490.00" y2="430.50" stroke="#222" stroke-width="1.0" />
<rect x="455.6" y="537.8" width="25.9" height="158.1" fill="#fa6b6b"/>
<rect x="581" y="537.8" width="25.7" height="135.5" fill="#fa6b6b"/>
<rect x="405.4" y="537.8" width="251.7" height="201.8" fill="none" stroke="#000" stroke-width="1.7"/>
<line x1="401.40" y1="537.80" x2="405.40" y2="537.80" stroke="#000" stroke-width="1.3" />
<line x1="402.90" y1="571.43" x2="405.40" y2="571.43" stroke="#000" stroke-width="1.3" />
<line x1="401.40" y1="605.07" x2="405.40" y2="605.07" stroke="#000" stroke-width="1.3" />
<line x1="402.90" y1="638.70" x2="405.40" y2="638.70" stroke="#000" stroke-width="1.3" />
<line x1="401.40" y1="672.33" x2="405.40" y2="672.33" stroke="#000" stroke-width="1.3" />
<line x1="402.90" y1="705.97" x2="405.40" y2="705.97" stroke="#000" stroke-width="1.3" />
<line x1="401.40" y1="739.60" x2="405.40" y2="739.60" stroke="#000" stroke-width="1.3" />
<text x="398.9" y="542.1" font-size="12.2" text-anchor="end" fill="#1a1a1a" >0</text>
<text x="398.9" y="609.4" font-size="12.2" text-anchor="end" fill="#1a1a1a" >-1</text>
<text x="398.9" y="676.6" font-size="12.2" text-anchor="end" fill="#1a1a1a" >-2</text>
<text x="398.9" y="743.9" font-size="12.2" text-anchor="end" fill="#1a1a1a" >-3</text>
<text x="469.5" y="756.9" font-size="12.1" text-anchor="middle" fill="#1a1a1a">IrO<tspan font-size="8.6" dy="3.4">2</tspan></text>
<text x="595.5" y="756.9" font-size="12.1" text-anchor="middle" fill="#1a1a1a">IrO<tspan font-size="8.6" dy="3.4">2</tspan><tspan dy="-3.4">/PtO</tspan><tspan font-size="8.6" dy="3.4">2</tspan></text>
<text transform="translate(384.3,638.7) rotate(-90)" font-size="12.77" text-anchor="middle" fill="#1a1a1a">Binding Energy of Cl (eV)</text>
<text x="356.5" y="538.8" font-size="20" font-weight="bold" text-anchor="start" fill="#000" >f</text>
<defs>
<radialGradient id="gO" cx="0.4" cy="0.38" r="0.66"><stop offset="0" stop-color="#ff9a9a"/><stop offset="0.15" stop-color="#f05050"/><stop offset="0.65" stop-color="#e23434"/><stop offset="1" stop-color="#b92222"/></radialGradient>
<radialGradient id="gIr" cx="0.4" cy="0.38" r="0.68"><stop offset="0" stop-color="#ffffff"/><stop offset="0.28" stop-color="#e9e2e2"/><stop offset="0.72" stop-color="#c9bfbf"/><stop offset="1" stop-color="#918686"/></radialGradient>
<radialGradient id="gPt" cx="0.4" cy="0.38" r="0.68"><stop offset="0" stop-color="#8cbce2"/><stop offset="0.18" stop-color="#5089bd"/><stop offset="0.7" stop-color="#3f77aa"/><stop offset="1" stop-color="#28547e"/></radialGradient>
<radialGradient id="gCl" cx="0.38" cy="0.35" r="0.7"><stop offset="0" stop-color="#ffffff"/><stop offset="0.35" stop-color="#e6f6e6"/><stop offset="1" stop-color="#b2dcb2"/></radialGradient>
<marker id="arr" viewBox="0 0 10 10" refX="8" refY="5" markerWidth="4.2" markerHeight="4.2" orient="auto-start-reverse"><path d="M0,0 L10,5 L0,10 z" fill="#000"/></marker>
</defs>
<line x1="62.0" y1="565.0" x2="70.0" y2="565.0" stroke="#c92e30" stroke-width="6.5"/><line x1="62.0" y1="564.5" x2="70.0" y2="564.4" stroke="#e84446" stroke-width="5.46"/><line x1="62.0" y1="563.7" x2="70.0" y2="563.7" stroke="#f57c7c" stroke-width="1.62"/><line x1="70.0" y1="565.0" x2="78.0" y2="564.9" stroke="#c92e30" stroke-width="6.5"/><line x1="70.0" y1="564.4" x2="78.0" y2="564.4" stroke="#e84446" stroke-width="5.46"/><line x1="70.0" y1="563.7" x2="78.0" y2="563.6" stroke="#f57c7c" stroke-width="1.62"/><line x1="78.0" y1="564.9" x2="88.5" y2="564.7" stroke="#c92e30" stroke-width="6.5"/><line x1="78.0" y1="564.4" x2="88.5" y2="564.2" stroke="#e84446" stroke-width="5.46"/><line x1="78.0" y1="563.6" x2="88.5" y2="563.4" stroke="#f57c7c" stroke-width="1.62"/><line x1="88.5" y1="564.7" x2="99.1" y2="564.5" stroke="#c9bfbf" stroke-width="6.5"/><line x1="88.5" y1="564.2" x2="99.1" y2="564.0" stroke="#efe7e7" stroke-width="5.46"/><line x1="88.5" y1="563.4" x2="99.1" y2="563.2" stroke="#ffffff" stroke-width="1.62"/><line x1="99.1" y1="564.5" x2="110.0" y2="564.2" stroke="#c9bfbf" stroke-width="6.5"/><line x1="99.1" y1="564.0" x2="110.0" y2="563.7" stroke="#efe7e7" stroke-width="5.46"/><line x1="99.1" y1="563.2" x2="110.0" y2="563.0" stroke="#ffffff" stroke-width="1.62"/><line x1="110.0" y1="564.2" x2="121.0" y2="564.0" stroke="#c92e30" stroke-width="6.5"/><line x1="110.0" y1="563.7" x2="121.0" y2="563.5" stroke="#e84446" stroke-width="5.46"/><line x1="110.0" y1="563.0" x2="121.0" y2="562.7" stroke="#f57c7c" stroke-width="1.62"/><line x1="121.0" y1="564.0" x2="138.5" y2="564.0" stroke="#c92e30" stroke-width="6.5"/><line x1="121.0" y1="563.5" x2="138.5" y2="563.5" stroke="#e84446" stroke-width="5.46"/><line x1="121.0" y1="562.7" x2="138.5" y2="562.7" stroke="#f57c7c" stroke-width="1.62"/><line x1="138.5" y1="564.0" x2="156.0" y2="564.0" stroke="#c9bfbf" stroke-width="6.5"/><line x1="138.5" y1="563.5" x2="156.0" y2="563.5" stroke="#efe7e7" stroke-width="5.46"/><line x1="138.5" y1="562.7" x2="156.0" y2="562.7" stroke="#ffffff" stroke-width="1.62"/><line x1="156.0" y1="564.0" x2="172.2" y2="565.1" stroke="#c9bfbf" stroke-width="6.5"/><line x1="156.0" y1="563.5" x2="172.3" y2="564.6" stroke="#efe7e7" stroke-width="5.46"/><line x1="156.1" y1="562.7" x2="172.3" y2="563.8" stroke="#ffffff" stroke-width="1.62"/><line x1="172.2" y1="565.1" x2="188.5" y2="566.2" stroke="#c92e30" stroke-width="6.5"/><line x1="172.3" y1="564.6" x2="188.5" y2="565.7" stroke="#e84446" stroke-width="5.46"/><line x1="172.3" y1="563.8" x2="188.6" y2="564.9" stroke="#f57c7c" stroke-width="1.62"/><line x1="188.5" y1="566.2" x2="199.8" y2="565.8" stroke="#c92e30" stroke-width="6.5"/><line x1="188.5" y1="565.7" x2="199.8" y2="565.2" stroke="#e84446" stroke-width="5.46"/><line x1="188.4" y1="564.9" x2="199.8" y2="564.5" stroke="#f57c7c" stroke-width="1.62"/><line x1="199.8" y1="565.8" x2="211.2" y2="565.3" stroke="#c9bfbf" stroke-width="6.5"/><line x1="199.8" y1="565.2" x2="211.2" y2="564.8" stroke="#efe7e7" stroke-width="5.46"/><line x1="199.8" y1="564.5" x2="211.1" y2="564.0" stroke="#ffffff" stroke-width="1.62"/><line x1="211.2" y1="565.3" x2="221.6" y2="565.0" stroke="#c9bfbf" stroke-width="6.5"/><line x1="211.2" y1="564.8" x2="221.6" y2="564.5" stroke="#efe7e7" stroke-width="5.46"/><line x1="211.2" y1="564.0" x2="221.6" y2="563.7" stroke="#ffffff" stroke-width="1.62"/><line x1="221.6" y1="565.0" x2="232.1" y2="564.7" stroke="#c92e30" stroke-width="6.5"/><line x1="221.6" y1="564.5" x2="232.1" y2="564.2" stroke="#e84446" stroke-width="5.46"/><line x1="221.6" y1="563.7" x2="232.1" y2="563.4" stroke="#f57c7c" stroke-width="1.62"/><line x1="232.1" y1="564.7" x2="249.6" y2="564.0" stroke="#c92e30" stroke-width="6.5"/><line x1="232.1" y1="564.2" x2="249.6" y2="563.5" stroke="#e84446" stroke-width="5.46"/><line x1="232.1" y1="563.4" x2="249.6" y2="562.8" stroke="#f57c7c" stroke-width="1.62"/><line x1="249.6" y1="564.0" x2="267.2" y2="563.4" stroke="#c9bfbf" stroke-width="6.5"/><line x1="249.6" y1="563.5" x2="267.2" y2="562.9" stroke="#efe7e7" stroke-width="5.46"/><line x1="249.6" y1="562.8" x2="267.2" y2="562.1" stroke="#ffffff" stroke-width="1.62"/><line x1="267.2" y1="563.4" x2="275.1" y2="563.4" stroke="#c9bfbf" stroke-width="6.5"/><line x1="267.2" y1="562.9" x2="275.1" y2="562.9" stroke="#efe7e7" stroke-width="5.46"/><line x1="267.2" y1="562.1" x2="275.1" y2="562.1" stroke="#ffffff" stroke-width="1.62"/><line x1="275.1" y1="563.4" x2="283.0" y2="563.4" stroke="#c9bfbf" stroke-width="6.5"/><line x1="275.1" y1="562.9" x2="283.0" y2="562.9" stroke="#efe7e7" stroke-width="5.46"/><line x1="275.1" y1="562.1" x2="283.0" y2="562.1" stroke="#ffffff" stroke-width="1.62"/><line x1="52.0" y1="619.5" x2="58.9" y2="619.4" stroke="#c92e30" stroke-width="6.5"/><line x1="52.0" y1="619.0" x2="58.9" y2="618.8" stroke="#e84446" stroke-width="5.46"/><line x1="52.0" y1="618.2" x2="58.9" y2="618.1" stroke="#f57c7c" stroke-width="1.62"/><line x1="58.9" y1="619.4" x2="65.8" y2="619.2" stroke="#c92e30" stroke-width="6.5"/><line x1="58.9" y1="618.8" x2="65.8" y2="618.7" stroke="#e84446" stroke-width="5.46"/><line x1="58.9" y1="618.1" x2="65.8" y2="617.9" stroke="#f57c7c" stroke-width="1.62"/><line x1="65.8" y1="619.2" x2="83.3" y2="619.7" stroke="#c92e30" stroke-width="6.5"/><line x1="65.8" y1="618.7" x2="83.3" y2="619.1" stroke="#e84446" stroke-width="5.46"/><line x1="65.8" y1="617.9" x2="83.3" y2="618.4" stroke="#f57c7c" stroke-width="1.62"/><line x1="83.3" y1="619.7" x2="100.8" y2="620.1" stroke="#c9bfbf" stroke-width="6.5"/><line x1="83.3" y1="619.1" x2="100.8" y2="619.6" stroke="#efe7e7" stroke-width="5.46"/><line x1="83.3" y1="618.4" x2="100.8" y2="618.8" stroke="#ffffff" stroke-width="1.62"/><line x1="100.8" y1="620.1" x2="117.0" y2="621.0" stroke="#c9bfbf" stroke-width="6.5"/><line x1="100.8" y1="619.6" x2="117.0" y2="620.5" stroke="#efe7e7" stroke-width="5.46"/><line x1="100.9" y1="618.8" x2="117.1" y2="619.7" stroke="#ffffff" stroke-width="1.62"/><line x1="117.0" y1="621.0" x2="133.2" y2="621.9" stroke="#c92e30" stroke-width="6.5"/><line x1="117.0" y1="620.5" x2="133.2" y2="621.4" stroke="#e84446" stroke-width="5.46"/><line x1="117.1" y1="619.7" x2="133.3" y2="620.6" stroke="#f57c7c" stroke-width="1.62"/><line x1="133.2" y1="621.9" x2="144.1" y2="620.5" stroke="#c92e30" stroke-width="6.5"/><line x1="133.1" y1="621.4" x2="144.1" y2="620.0" stroke="#e84446" stroke-width="5.46"/><line x1="133.0" y1="620.6" x2="144.0" y2="619.3" stroke="#f57c7c" stroke-width="1.62"/><line x1="144.1" y1="620.5" x2="155.1" y2="619.2" stroke="#c9bfbf" stroke-width="6.5"/><line x1="144.1" y1="620.0" x2="155.0" y2="618.7" stroke="#efe7e7" stroke-width="5.46"/><line x1="144.0" y1="619.3" x2="154.9" y2="617.9" stroke="#ffffff" stroke-width="1.62"/><line x1="155.1" y1="619.2" x2="165.6" y2="619.3" stroke="#c9bfbf" stroke-width="6.5"/><line x1="155.1" y1="618.7" x2="165.6" y2="618.8" stroke="#efe7e7" stroke-width="5.46"/><line x1="155.1" y1="617.9" x2="165.6" y2="618.0" stroke="#ffffff" stroke-width="1.62"/><line x1="165.6" y1="619.3" x2="176.1" y2="619.4" stroke="#c92e30" stroke-width="6.5"/><line x1="165.6" y1="618.8" x2="176.1" y2="618.9" stroke="#e84446" stroke-width="5.46"/><line x1="165.6" y1="618.0" x2="176.1" y2="618.1" stroke="#f57c7c" stroke-width="1.62"/><line x1="176.1" y1="619.4" x2="193.6" y2="619.8" stroke="#c92e30" stroke-width="6.5"/><line x1="176.1" y1="618.9" x2="193.7" y2="619.3" stroke="#e84446" stroke-width="5.46"/><line x1="176.1" y1="618.1" x2="193.7" y2="618.6" stroke="#f57c7c" stroke-width="1.62"/><line x1="193.6" y1="619.8" x2="211.2" y2="620.3" stroke="#c9bfbf" stroke-width="6.5"/><line x1="193.7" y1="619.3" x2="211.2" y2="619.8" stroke="#efe7e7" stroke-width="5.46"/><line x1="193.7" y1="618.6" x2="211.2" y2="619.0" stroke="#ffffff" stroke-width="1.62"/><line x1="211.2" y1="620.3" x2="227.3" y2="621.2" stroke="#c9bfbf" stroke-width="6.5"/><line x1="211.2" y1="619.8" x2="227.4" y2="620.7" stroke="#efe7e7" stroke-width="5.46"/><line x1="211.3" y1="619.0" x2="227.4" y2="620.0" stroke="#ffffff" stroke-width="1.62"/><line x1="227.3" y1="621.2" x2="243.5" y2="622.2" stroke="#c92e30" stroke-width="6.5"/><line x1="227.4" y1="620.7" x2="243.5" y2="621.7" stroke="#e84446" stroke-width="5.46"/><line x1="227.4" y1="620.0" x2="243.6" y2="620.9" stroke="#f57c7c" stroke-width="1.62"/><line x1="243.5" y1="622.2" x2="256.3" y2="620.8" stroke="#c92e30" stroke-width="6.5"/><line x1="243.4" y1="621.7" x2="256.2" y2="620.3" stroke="#e84446" stroke-width="5.46"/><line x1="243.4" y1="620.9" x2="256.2" y2="619.5" stroke="#f57c7c" stroke-width="1.62"/><line x1="256.3" y1="620.8" x2="269.1" y2="619.4" stroke="#c9bfbf" stroke-width="6.5"/><line x1="256.2" y1="620.3" x2="269.0" y2="618.9" stroke="#efe7e7" stroke-width="5.46"/><line x1="256.2" y1="619.5" x2="269.0" y2="618.1" stroke="#ffffff" stroke-width="1.62"/><line x1="269.1" y1="619.4" x2="276.1" y2="619.5" stroke="#c9bfbf" stroke-width="6.5"/><line x1="269.1" y1="618.9" x2="276.1" y2="618.9" stroke="#efe7e7" stroke-width="5.46"/><line x1="269.1" y1="618.1" x2="276.1" y2="618.2" stroke="#ffffff" stroke-width="1.62"/><line x1="276.1" y1="619.5" x2="283.0" y2="619.5" stroke="#c9bfbf" stroke-width="6.5"/><line x1="276.1" y1="618.9" x2="283.0" y2="619.0" stroke="#efe7e7" stroke-width="5.46"/><line x1="276.1" y1="618.2" x2="283.0" y2="618.2" stroke="#ffffff" stroke-width="1.62"/><line x1="61.0" y1="680.0" x2="69.5" y2="681.5" stroke="#c92e30" stroke-width="6.5"/><line x1="61.1" y1="679.5" x2="69.6" y2="681.0" stroke="#e84446" stroke-width="5.46"/><line x1="61.2" y1="678.7" x2="69.7" y2="680.3" stroke="#f57c7c" stroke-width="1.62"/><line x1="69.5" y1="681.5" x2="78.0" y2="683.1" stroke="#c92e30" stroke-width="6.5"/><line x1="69.6" y1="681.0" x2="78.1" y2="682.6" stroke="#e84446" stroke-width="5.46"/><line x1="69.7" y1="680.3" x2="78.2" y2="681.8" stroke="#f57c7c" stroke-width="1.62"/><line x1="78.0" y1="683.1" x2="88.4" y2="679.8" stroke="#c92e30" stroke-width="6.5"/><line x1="77.8" y1="682.6" x2="88.2" y2="679.3" stroke="#e84446" stroke-width="5.46"/><line x1="77.6" y1="681.9" x2="88.0" y2="678.6" stroke="#f57c7c" stroke-width="1.62"/><line x1="88.4" y1="679.8" x2="98.8" y2="676.5" stroke="#34689a" stroke-width="6.5"/><line x1="88.2" y1="679.3" x2="98.6" y2="676.0" stroke="#4b8cc6" stroke-width="5.46"/><line x1="88.0" y1="678.6" x2="98.4" y2="675.3" stroke="#7db3e0" stroke-width="1.62"/><line x1="98.8" y1="676.5" x2="109.2" y2="673.6" stroke="#34689a" stroke-width="6.5"/><line x1="98.7" y1="676.0" x2="109.1" y2="673.1" stroke="#4b8cc6" stroke-width="5.46"/><line x1="98.5" y1="675.2" x2="108.9" y2="672.4" stroke="#7db3e0" stroke-width="1.62"/><line x1="109.2" y1="673.6" x2="119.7" y2="670.8" stroke="#c92e30" stroke-width="6.5"/><line x1="109.1" y1="673.1" x2="119.6" y2="670.3" stroke="#e84446" stroke-width="5.46"/><line x1="108.9" y1="672.4" x2="119.4" y2="669.5" stroke="#f57c7c" stroke-width="1.62"/><line x1="119.7" y1="670.8" x2="137.2" y2="673.6" stroke="#c92e30" stroke-width="6.5"/><line x1="119.8" y1="670.3" x2="137.3" y2="673.1" stroke="#e84446" stroke-width="5.46"/><line x1="119.9" y1="669.5" x2="137.5" y2="672.4" stroke="#f57c7c" stroke-width="1.62"/><line x1="137.2" y1="673.6" x2="154.8" y2="676.5" stroke="#34689a" stroke-width="6.5"/><line x1="137.3" y1="673.1" x2="154.9" y2="676.0" stroke="#4b8cc6" stroke-width="5.46"/><line x1="137.5" y1="672.4" x2="155.0" y2="675.2" stroke="#7db3e0" stroke-width="1.62"/><line x1="154.8" y1="676.5" x2="171.7" y2="679.8" stroke="#34689a" stroke-width="6.5"/><line x1="154.9" y1="676.0" x2="171.7" y2="679.3" stroke="#4b8cc6" stroke-width="5.46"/><line x1="155.0" y1="675.2" x2="171.9" y2="678.5" stroke="#7db3e0" stroke-width="1.62"/><line x1="171.7" y1="679.8" x2="188.5" y2="683.1" stroke="#c92e30" stroke-width="6.5"/><line x1="171.7" y1="679.3" x2="188.6" y2="682.6" stroke="#e84446" stroke-width="5.46"/><line x1="171.9" y1="678.5" x2="188.7" y2="681.8" stroke="#f57c7c" stroke-width="1.62"/><line x1="188.5" y1="683.1" x2="198.9" y2="679.8" stroke="#c92e30" stroke-width="6.5"/><line x1="188.3" y1="682.6" x2="198.7" y2="679.3" stroke="#e84446" stroke-width="5.46"/><line x1="188.1" y1="681.9" x2="198.5" y2="678.6" stroke="#f57c7c" stroke-width="1.62"/><line x1="198.9" y1="679.8" x2="209.3" y2="676.5" stroke="#34689a" stroke-width="6.5"/><line x1="198.7" y1="679.3" x2="209.1" y2="676.0" stroke="#4b8cc6" stroke-width="5.46"/><line x1="198.5" y1="678.6" x2="208.9" y2="675.3" stroke="#7db3e0" stroke-width="1.62"/><line x1="209.3" y1="676.5" x2="220.2" y2="673.6" stroke="#34689a" stroke-width="6.5"/><line x1="209.2" y1="676.0" x2="220.1" y2="673.1" stroke="#4b8cc6" stroke-width="5.46"/><line x1="209.0" y1="675.2" x2="219.9" y2="672.4" stroke="#7db3e0" stroke-width="1.62"/><line x1="220.2" y1="673.6" x2="231.2" y2="670.8" stroke="#c92e30" stroke-width="6.5"/><line x1="220.1" y1="673.1" x2="231.1" y2="670.3" stroke="#e84446" stroke-width="5.46"/><line x1="219.9" y1="672.4" x2="230.9" y2="669.5" stroke="#f57c7c" stroke-width="1.62"/><line x1="231.2" y1="670.8" x2="248.2" y2="673.1" stroke="#c92e30" stroke-width="6.5"/><line x1="231.3" y1="670.3" x2="248.3" y2="672.6" stroke="#e84446" stroke-width="5.46"/><line x1="231.4" y1="669.5" x2="248.4" y2="671.9" stroke="#f57c7c" stroke-width="1.62"/><line x1="248.2" y1="673.1" x2="265.3" y2="675.5" stroke="#34689a" stroke-width="6.5"/><line x1="248.3" y1="672.6" x2="265.4" y2="675.0" stroke="#4b8cc6" stroke-width="5.46"/><line x1="248.4" y1="671.9" x2="265.5" y2="674.2" stroke="#7db3e0" stroke-width="1.62"/><line x1="265.3" y1="675.5" x2="273.9" y2="675.8" stroke="#34689a" stroke-width="6.5"/><line x1="265.3" y1="675.0" x2="273.9" y2="675.2" stroke="#4b8cc6" stroke-width="5.46"/><line x1="265.3" y1="674.2" x2="273.9" y2="674.5" stroke="#7db3e0" stroke-width="1.62"/><line x1="273.9" y1="675.8" x2="282.4" y2="676.0" stroke="#34689a" stroke-width="6.5"/><line x1="273.9" y1="675.2" x2="282.4" y2="675.5" stroke="#4b8cc6" stroke-width="5.46"/><line x1="273.9" y1="674.5" x2="282.4" y2="674.7" stroke="#7db3e0" stroke-width="1.62"/><line x1="45.0" y1="729.5" x2="52.0" y2="727.6" stroke="#c92e30" stroke-width="6.5"/><line x1="44.9" y1="729.0" x2="51.9" y2="727.1" stroke="#e84446" stroke-width="5.46"/><line x1="44.7" y1="728.2" x2="51.7" y2="726.4" stroke="#f57c7c" stroke-width="1.62"/><line x1="52.0" y1="727.6" x2="59.0" y2="725.8" stroke="#c92e30" stroke-width="6.5"/><line x1="51.9" y1="727.1" x2="58.9" y2="725.3" stroke="#e84446" stroke-width="5.46"/><line x1="51.7" y1="726.4" x2="58.7" y2="724.5" stroke="#f57c7c" stroke-width="1.62"/><line x1="59.0" y1="725.8" x2="77.0" y2="729.1" stroke="#c92e30" stroke-width="6.5"/><line x1="59.1" y1="725.3" x2="77.1" y2="728.6" stroke="#e84446" stroke-width="5.46"/><line x1="59.2" y1="724.5" x2="77.2" y2="727.9" stroke="#f57c7c" stroke-width="1.62"/><line x1="77.0" y1="729.1" x2="95.0" y2="732.5" stroke="#34689a" stroke-width="6.5"/><line x1="77.1" y1="728.6" x2="95.1" y2="732.0" stroke="#4b8cc6" stroke-width="5.46"/><line x1="77.2" y1="727.9" x2="95.2" y2="731.2" stroke="#7db3e0" stroke-width="1.62"/><line x1="95.0" y1="732.5" x2="112.1" y2="736.3" stroke="#34689a" stroke-width="6.5"/><line x1="95.1" y1="732.0" x2="112.2" y2="735.8" stroke="#4b8cc6" stroke-width="5.46"/><line x1="95.3" y1="731.2" x2="112.4" y2="735.0" stroke="#7db3e0" stroke-width="1.62"/><line x1="112.1" y1="736.3" x2="129.2" y2="740.1" stroke="#c92e30" stroke-width="6.5"/><line x1="112.2" y1="735.8" x2="129.3" y2="739.6" stroke="#e84446" stroke-width="5.46"/><line x1="112.4" y1="735.0" x2="129.5" y2="738.8" stroke="#f57c7c" stroke-width="1.62"/><line x1="129.2" y1="740.1" x2="139.6" y2="736.8" stroke="#c92e30" stroke-width="6.5"/><line x1="129.0" y1="739.6" x2="139.5" y2="736.3" stroke="#e84446" stroke-width="5.46"/><line x1="128.8" y1="738.9" x2="139.3" y2="735.5" stroke="#f57c7c" stroke-width="1.62"/><line x1="139.6" y1="736.8" x2="150.1" y2="733.4" stroke="#34689a" stroke-width="6.5"/><line x1="139.5" y1="736.3" x2="149.9" y2="732.9" stroke="#4b8cc6" stroke-width="5.46"/><line x1="139.3" y1="735.5" x2="149.7" y2="732.2" stroke="#7db3e0" stroke-width="1.62"/><line x1="150.1" y1="733.4" x2="159.8" y2="729.6" stroke="#34689a" stroke-width="6.5"/><line x1="149.9" y1="732.9" x2="159.6" y2="729.1" stroke="#4b8cc6" stroke-width="5.46"/><line x1="149.6" y1="732.2" x2="159.3" y2="728.4" stroke="#7db3e0" stroke-width="1.62"/><line x1="159.8" y1="729.6" x2="169.5" y2="725.8" stroke="#c92e30" stroke-width="6.5"/><line x1="159.6" y1="729.1" x2="169.3" y2="725.3" stroke="#e84446" stroke-width="5.46"/><line x1="159.3" y1="728.4" x2="169.0" y2="724.6" stroke="#f57c7c" stroke-width="1.62"/><line x1="169.5" y1="725.8" x2="187.5" y2="729.1" stroke="#c92e30" stroke-width="6.5"/><line x1="169.6" y1="725.3" x2="187.6" y2="728.6" stroke="#e84446" stroke-width="5.46"/><line x1="169.7" y1="724.5" x2="187.7" y2="727.9" stroke="#f57c7c" stroke-width="1.62"/><line x1="187.5" y1="729.1" x2="205.5" y2="732.5" stroke="#34689a" stroke-width="6.5"/><line x1="187.6" y1="728.6" x2="205.6" y2="732.0" stroke="#4b8cc6" stroke-width="5.46"/><line x1="187.7" y1="727.9" x2="205.7" y2="731.2" stroke="#7db3e0" stroke-width="1.62"/><line x1="205.5" y1="732.5" x2="223.1" y2="736.3" stroke="#34689a" stroke-width="6.5"/><line x1="205.6" y1="732.0" x2="223.2" y2="735.8" stroke="#4b8cc6" stroke-width="5.46"/><line x1="205.8" y1="731.2" x2="223.3" y2="735.0" stroke="#7db3e0" stroke-width="1.62"/><line x1="223.1" y1="736.3" x2="240.6" y2="740.1" stroke="#c92e30" stroke-width="6.5"/><line x1="223.2" y1="735.8" x2="240.7" y2="739.6" stroke="#e84446" stroke-width="5.46"/><line x1="223.3" y1="735.0" x2="240.9" y2="738.8" stroke="#f57c7c" stroke-width="1.62"/><line x1="240.6" y1="740.1" x2="251.1" y2="736.8" stroke="#c92e30" stroke-width="6.5"/><line x1="240.4" y1="739.6" x2="250.9" y2="736.3" stroke="#e84446" stroke-width="5.46"/><line x1="240.2" y1="738.9" x2="250.7" y2="735.5" stroke="#f57c7c" stroke-width="1.62"/><line x1="251.1" y1="736.8" x2="261.5" y2="733.4" stroke="#34689a" stroke-width="6.5"/><line x1="250.9" y1="736.3" x2="261.3" y2="732.9" stroke="#4b8cc6" stroke-width="5.46"/><line x1="250.7" y1="735.5" x2="261.1" y2="732.2" stroke="#7db3e0" stroke-width="1.62"/><line x1="99.1" y1="564.5" x2="100.8" y2="582.6" stroke="#c9bfbf" stroke-width="5.8"/><line x1="98.6" y1="564.5" x2="100.4" y2="582.7" stroke="#efe7e7" stroke-width="4.87"/><line x1="97.9" y1="564.6" x2="99.7" y2="582.8" stroke="#ffffff" stroke-width="1.45"/><line x1="100.8" y1="582.6" x2="102.6" y2="600.8" stroke="#c92e30" stroke-width="5.8"/><line x1="100.4" y1="582.7" x2="102.1" y2="600.8" stroke="#e84446" stroke-width="4.87"/><line x1="99.7" y1="582.8" x2="101.4" y2="600.9" stroke="#f57c7c" stroke-width="1.45"/><line x1="102.6" y1="600.8" x2="101.7" y2="610.5" stroke="#c92e30" stroke-width="5.8"/><line x1="102.1" y1="600.8" x2="101.2" y2="610.4" stroke="#e84446" stroke-width="4.87"/><line x1="101.4" y1="600.7" x2="100.5" y2="610.3" stroke="#f57c7c" stroke-width="1.45"/><line x1="101.7" y1="610.5" x2="100.8" y2="620.1" stroke="#c9bfbf" stroke-width="5.8"/><line x1="101.2" y1="610.4" x2="100.3" y2="620.1" stroke="#efe7e7" stroke-width="4.87"/><line x1="100.5" y1="610.3" x2="99.6" y2="620.0" stroke="#ffffff" stroke-width="1.45"/><line x1="100.8" y1="620.1" x2="98.4" y2="631.2" stroke="#c9bfbf" stroke-width="5.8"/><line x1="100.3" y1="620.0" x2="97.9" y2="631.1" stroke="#efe7e7" stroke-width="4.87"/><line x1="99.7" y1="619.9" x2="97.3" y2="631.0" stroke="#ffffff" stroke-width="1.45"/><line x1="98.4" y1="631.2" x2="96.0" y2="642.3" stroke="#c92e30" stroke-width="5.8"/><line x1="97.9" y1="631.1" x2="95.5" y2="642.2" stroke="#e84446" stroke-width="4.87"/><line x1="97.3" y1="631.0" x2="94.9" y2="642.1" stroke="#f57c7c" stroke-width="1.45"/><line x1="96.0" y1="642.3" x2="97.4" y2="659.4" stroke="#c92e30" stroke-width="5.8"/><line x1="95.5" y1="642.3" x2="96.9" y2="659.4" stroke="#e84446" stroke-width="4.87"/><line x1="94.8" y1="642.4" x2="96.2" y2="659.5" stroke="#f57c7c" stroke-width="1.45"/><line x1="97.4" y1="659.4" x2="98.8" y2="676.5" stroke="#34689a" stroke-width="5.8"/><line x1="96.9" y1="659.4" x2="98.3" y2="676.5" stroke="#4b8cc6" stroke-width="4.87"/><line x1="96.2" y1="659.5" x2="97.6" y2="676.6" stroke="#7db3e0" stroke-width="1.45"/><line x1="98.8" y1="676.5" x2="100.7" y2="694.5" stroke="#34689a" stroke-width="5.8"/><line x1="98.3" y1="676.5" x2="100.2" y2="694.5" stroke="#4b8cc6" stroke-width="4.87"/><line x1="97.6" y1="676.6" x2="99.5" y2="694.6" stroke="#7db3e0" stroke-width="1.45"/><line x1="100.7" y1="694.5" x2="102.6" y2="712.5" stroke="#c92e30" stroke-width="5.8"/><line x1="100.2" y1="694.5" x2="102.1" y2="712.5" stroke="#e84446" stroke-width="4.87"/><line x1="99.5" y1="694.6" x2="101.4" y2="712.6" stroke="#f57c7c" stroke-width="1.45"/><line x1="102.6" y1="712.5" x2="98.8" y2="722.5" stroke="#c92e30" stroke-width="5.8"/><line x1="102.2" y1="712.3" x2="98.4" y2="722.3" stroke="#e84446" stroke-width="4.87"/><line x1="101.5" y1="712.1" x2="97.7" y2="722.1" stroke="#f57c7c" stroke-width="1.45"/><line x1="98.8" y1="722.5" x2="95.0" y2="732.5" stroke="#34689a" stroke-width="5.8"/><line x1="98.4" y1="722.3" x2="94.6" y2="732.3" stroke="#4b8cc6" stroke-width="4.87"/><line x1="97.7" y1="722.1" x2="93.9" y2="732.1" stroke="#7db3e0" stroke-width="1.45"/><line x1="156.0" y1="564.0" x2="155.1" y2="575.4" stroke="#c9bfbf" stroke-width="5.8"/><line x1="155.5" y1="564.0" x2="154.6" y2="575.4" stroke="#efe7e7" stroke-width="4.87"/><line x1="154.8" y1="563.9" x2="153.9" y2="575.3" stroke="#ffffff" stroke-width="1.45"/><line x1="155.1" y1="575.4" x2="154.2" y2="586.8" stroke="#c92e30" stroke-width="5.8"/><line x1="154.6" y1="575.4" x2="153.7" y2="586.8" stroke="#e84446" stroke-width="4.87"/><line x1="153.9" y1="575.3" x2="153.0" y2="586.7" stroke="#f57c7c" stroke-width="1.45"/><line x1="154.2" y1="586.8" x2="154.6" y2="603.0" stroke="#c92e30" stroke-width="5.8"/><line x1="153.7" y1="586.8" x2="154.2" y2="603.0" stroke="#e84446" stroke-width="4.87"/><line x1="153.0" y1="586.8" x2="153.5" y2="603.0" stroke="#f57c7c" stroke-width="1.45"/><line x1="154.6" y1="603.0" x2="155.1" y2="619.2" stroke="#c9bfbf" stroke-width="5.8"/><line x1="154.2" y1="603.0" x2="154.6" y2="619.2" stroke="#efe7e7" stroke-width="4.87"/><line x1="153.5" y1="603.0" x2="153.9" y2="619.2" stroke="#ffffff" stroke-width="1.45"/><line x1="155.1" y1="619.2" x2="156.8" y2="637.0" stroke="#c9bfbf" stroke-width="5.8"/><line x1="154.6" y1="619.2" x2="156.4" y2="637.0" stroke="#efe7e7" stroke-width="4.87"/><line x1="153.9" y1="619.3" x2="155.7" y2="637.1" stroke="#ffffff" stroke-width="1.45"/><line x1="156.8" y1="637.0" x2="158.6" y2="654.7" stroke="#c92e30" stroke-width="5.8"/><line x1="156.4" y1="637.0" x2="158.1" y2="654.7" stroke="#e84446" stroke-width="4.87"/><line x1="155.7" y1="637.1" x2="157.4" y2="654.8" stroke="#f57c7c" stroke-width="1.45"/><line x1="158.6" y1="654.7" x2="156.7" y2="665.6" stroke="#c92e30" stroke-width="5.8"/><line x1="158.1" y1="654.6" x2="156.2" y2="665.5" stroke="#e84446" stroke-width="4.87"/><line x1="157.5" y1="654.5" x2="155.6" y2="665.4" stroke="#f57c7c" stroke-width="1.45"/><line x1="156.7" y1="665.6" x2="154.8" y2="676.5" stroke="#34689a" stroke-width="5.8"/><line x1="156.2" y1="665.5" x2="154.3" y2="676.4" stroke="#4b8cc6" stroke-width="4.87"/><line x1="155.6" y1="665.4" x2="153.7" y2="676.3" stroke="#7db3e0" stroke-width="1.45"/><line x1="154.8" y1="676.5" x2="151.5" y2="686.5" stroke="#34689a" stroke-width="5.8"/><line x1="154.4" y1="676.4" x2="151.1" y2="686.3" stroke="#4b8cc6" stroke-width="4.87"/><line x1="153.7" y1="676.1" x2="150.4" y2="686.1" stroke="#7db3e0" stroke-width="1.45"/><line x1="151.5" y1="686.5" x2="148.2" y2="696.4" stroke="#c92e30" stroke-width="5.8"/><line x1="151.1" y1="686.3" x2="147.8" y2="696.3" stroke="#e84446" stroke-width="4.87"/><line x1="150.4" y1="686.1" x2="147.1" y2="696.0" stroke="#f57c7c" stroke-width="1.45"/><line x1="148.2" y1="696.4" x2="149.1" y2="714.9" stroke="#c92e30" stroke-width="5.8"/><line x1="147.7" y1="696.4" x2="148.7" y2="714.9" stroke="#e84446" stroke-width="4.87"/><line x1="147.0" y1="696.5" x2="148.0" y2="715.0" stroke="#f57c7c" stroke-width="1.45"/><line x1="149.1" y1="714.9" x2="150.1" y2="733.4" stroke="#34689a" stroke-width="5.8"/><line x1="148.7" y1="714.9" x2="149.6" y2="733.4" stroke="#4b8cc6" stroke-width="4.87"/><line x1="148.0" y1="715.0" x2="148.9" y2="733.5" stroke="#7db3e0" stroke-width="1.45"/><line x1="211.2" y1="565.3" x2="212.1" y2="582.8" stroke="#c9bfbf" stroke-width="5.8"/><line x1="210.7" y1="565.3" x2="211.7" y2="582.9" stroke="#efe7e7" stroke-width="4.87"/><line x1="210.0" y1="565.4" x2="211.0" y2="582.9" stroke="#ffffff" stroke-width="1.45"/><line x1="212.1" y1="582.8" x2="213.1" y2="600.4" stroke="#c92e30" stroke-width="5.8"/><line x1="211.7" y1="582.9" x2="212.6" y2="600.4" stroke="#e84446" stroke-width="4.87"/><line x1="211.0" y1="582.9" x2="211.9" y2="600.5" stroke="#f57c7c" stroke-width="1.45"/><line x1="213.1" y1="600.4" x2="212.1" y2="610.3" stroke="#c92e30" stroke-width="5.8"/><line x1="212.6" y1="600.4" x2="211.7" y2="610.3" stroke="#e84446" stroke-width="4.87"/><line x1="211.9" y1="600.3" x2="211.0" y2="610.2" stroke="#f57c7c" stroke-width="1.45"/><line x1="212.1" y1="610.3" x2="211.2" y2="620.3" stroke="#c9bfbf" stroke-width="5.8"/><line x1="211.7" y1="610.3" x2="210.7" y2="620.3" stroke="#efe7e7" stroke-width="4.87"/><line x1="211.0" y1="610.2" x2="210.0" y2="620.2" stroke="#ffffff" stroke-width="1.45"/><line x1="211.2" y1="620.3" x2="208.8" y2="631.8" stroke="#c9bfbf" stroke-width="5.8"/><line x1="210.7" y1="620.2" x2="208.4" y2="631.7" stroke="#efe7e7" stroke-width="4.87"/><line x1="210.1" y1="620.1" x2="207.7" y2="631.6" stroke="#ffffff" stroke-width="1.45"/><line x1="208.8" y1="631.8" x2="206.5" y2="643.3" stroke="#c92e30" stroke-width="5.8"/><line x1="208.4" y1="631.7" x2="206.0" y2="643.2" stroke="#e84446" stroke-width="4.87"/><line x1="207.7" y1="631.6" x2="205.4" y2="643.1" stroke="#f57c7c" stroke-width="1.45"/><line x1="206.5" y1="643.3" x2="207.9" y2="659.9" stroke="#c92e30" stroke-width="5.8"/><line x1="206.0" y1="643.3" x2="207.4" y2="659.9" stroke="#e84446" stroke-width="4.87"/><line x1="205.3" y1="643.4" x2="206.7" y2="660.0" stroke="#f57c7c" stroke-width="1.45"/><line x1="207.9" y1="659.9" x2="209.3" y2="676.5" stroke="#34689a" stroke-width="5.8"/><line x1="207.4" y1="659.9" x2="208.8" y2="676.5" stroke="#4b8cc6" stroke-width="4.87"/><line x1="206.7" y1="660.0" x2="208.1" y2="676.6" stroke="#7db3e0" stroke-width="1.45"/><line x1="209.3" y1="676.5" x2="211.7" y2="694.5" stroke="#34689a" stroke-width="5.8"/><line x1="208.8" y1="676.6" x2="211.2" y2="694.6" stroke="#4b8cc6" stroke-width="4.87"/><line x1="208.2" y1="676.7" x2="210.6" y2="694.7" stroke="#7db3e0" stroke-width="1.45"/><line x1="211.7" y1="694.5" x2="214.1" y2="712.5" stroke="#c92e30" stroke-width="5.8"/><line x1="211.2" y1="694.6" x2="213.6" y2="712.6" stroke="#e84446" stroke-width="4.87"/><line x1="210.6" y1="694.7" x2="213.0" y2="712.7" stroke="#f57c7c" stroke-width="1.45"/><line x1="214.1" y1="712.5" x2="209.8" y2="722.5" stroke="#c92e30" stroke-width="5.8"/><line x1="213.7" y1="712.3" x2="209.4" y2="722.3" stroke="#e84446" stroke-width="4.87"/><line x1="213.0" y1="712.0" x2="208.7" y2="722.0" stroke="#f57c7c" stroke-width="1.45"/><line x1="209.8" y1="722.5" x2="205.5" y2="732.5" stroke="#34689a" stroke-width="5.8"/><line x1="209.4" y1="722.3" x2="205.1" y2="732.3" stroke="#4b8cc6" stroke-width="4.87"/><line x1="208.7" y1="722.0" x2="204.4" y2="732.0" stroke="#7db3e0" stroke-width="1.45"/><line x1="267.2" y1="563.4" x2="266.2" y2="575.2" stroke="#c9bfbf" stroke-width="5.8"/><line x1="266.7" y1="563.4" x2="265.8" y2="575.2" stroke="#efe7e7" stroke-width="4.87"/><line x1="266.0" y1="563.3" x2="265.1" y2="575.2" stroke="#ffffff" stroke-width="1.45"/><line x1="266.2" y1="575.2" x2="265.3" y2="587.1" stroke="#c92e30" stroke-width="5.8"/><line x1="265.8" y1="575.2" x2="264.8" y2="587.1" stroke="#e84446" stroke-width="4.87"/><line x1="265.1" y1="575.2" x2="264.1" y2="587.0" stroke="#f57c7c" stroke-width="1.45"/><line x1="265.3" y1="587.1" x2="267.2" y2="603.2" stroke="#c92e30" stroke-width="5.8"/><line x1="264.8" y1="587.2" x2="266.7" y2="603.3" stroke="#e84446" stroke-width="4.87"/><line x1="264.1" y1="587.2" x2="266.0" y2="603.4" stroke="#f57c7c" stroke-width="1.45"/><line x1="267.2" y1="603.2" x2="269.1" y2="619.4" stroke="#c9bfbf" stroke-width="5.8"/><line x1="266.7" y1="603.3" x2="268.6" y2="619.5" stroke="#efe7e7" stroke-width="4.87"/><line x1="266.0" y1="603.4" x2="267.9" y2="619.5" stroke="#ffffff" stroke-width="1.45"/><line x1="269.1" y1="619.4" x2="269.6" y2="636.5" stroke="#c9bfbf" stroke-width="5.8"/><line x1="268.6" y1="619.4" x2="269.1" y2="636.6" stroke="#efe7e7" stroke-width="4.87"/><line x1="267.9" y1="619.4" x2="268.4" y2="636.6" stroke="#ffffff" stroke-width="1.45"/><line x1="269.6" y1="636.5" x2="270.1" y2="653.7" stroke="#c92e30" stroke-width="5.8"/><line x1="269.1" y1="636.6" x2="269.6" y2="653.7" stroke="#e84446" stroke-width="4.87"/><line x1="268.4" y1="636.6" x2="268.9" y2="653.7" stroke="#f57c7c" stroke-width="1.45"/><line x1="270.1" y1="653.7" x2="267.7" y2="664.6" stroke="#c92e30" stroke-width="5.8"/><line x1="269.6" y1="653.6" x2="267.2" y2="664.5" stroke="#e84446" stroke-width="4.87"/><line x1="269.0" y1="653.5" x2="266.6" y2="664.4" stroke="#f57c7c" stroke-width="1.45"/><line x1="267.7" y1="664.6" x2="265.3" y2="675.5" stroke="#34689a" stroke-width="5.8"/><line x1="267.2" y1="664.5" x2="264.8" y2="675.4" stroke="#4b8cc6" stroke-width="4.87"/><line x1="266.6" y1="664.4" x2="264.2" y2="675.3" stroke="#7db3e0" stroke-width="1.45"/><line x1="265.3" y1="675.5" x2="262.0" y2="686.0" stroke="#34689a" stroke-width="5.8"/><line x1="264.9" y1="675.4" x2="261.6" y2="685.8" stroke="#4b8cc6" stroke-width="4.87"/><line x1="264.2" y1="675.2" x2="260.9" y2="685.6" stroke="#7db3e0" stroke-width="1.45"/><line x1="262.0" y1="686.0" x2="258.7" y2="696.4" stroke="#c92e30" stroke-width="5.8"/><line x1="261.6" y1="685.8" x2="258.3" y2="696.3" stroke="#e84446" stroke-width="4.87"/><line x1="260.9" y1="685.6" x2="257.6" y2="696.1" stroke="#f57c7c" stroke-width="1.45"/><line x1="258.7" y1="696.4" x2="260.1" y2="714.9" stroke="#c92e30" stroke-width="5.8"/><line x1="258.2" y1="696.4" x2="259.6" y2="714.9" stroke="#e84446" stroke-width="4.87"/><line x1="257.5" y1="696.5" x2="258.9" y2="715.0" stroke="#f57c7c" stroke-width="1.45"/><line x1="260.1" y1="714.9" x2="261.5" y2="733.4" stroke="#34689a" stroke-width="5.8"/><line x1="259.6" y1="714.9" x2="261.0" y2="733.4" stroke="#4b8cc6" stroke-width="4.87"/><line x1="258.9" y1="715.0" x2="260.3" y2="733.5" stroke="#7db3e0" stroke-width="1.45"/><line x1="156.0" y1="564.0" x2="156.0" y2="554.4" stroke="#c9bfbf" stroke-width="5.8"/><line x1="155.5" y1="564.0" x2="155.5" y2="554.4" stroke="#efe7e7" stroke-width="4.87"/><line x1="154.8" y1="564.0" x2="154.8" y2="554.4" stroke="#ffffff" stroke-width="1.45"/><line x1="156.0" y1="554.4" x2="156.0" y2="544.8" stroke="#c92e30" stroke-width="5.8"/><line x1="155.5" y1="554.4" x2="155.5" y2="544.8" stroke="#e84446" stroke-width="4.87"/><line x1="154.8" y1="554.4" x2="154.8" y2="544.8" stroke="#f57c7c" stroke-width="1.45"/><line x1="267.2" y1="563.4" x2="267.2" y2="553.9" stroke="#c9bfbf" stroke-width="5.8"/><line x1="266.7" y1="563.4" x2="266.7" y2="553.9" stroke="#efe7e7" stroke-width="4.87"/><line x1="266.0" y1="563.4" x2="266.0" y2="553.9" stroke="#ffffff" stroke-width="1.45"/><line x1="267.2" y1="553.9" x2="267.2" y2="544.4" stroke="#c92e30" stroke-width="5.8"/><line x1="266.7" y1="553.9" x2="266.7" y2="544.4" stroke="#e84446" stroke-width="4.87"/><line x1="266.0" y1="553.9" x2="266.0" y2="544.4" stroke="#f57c7c" stroke-width="1.45"/><line x1="211.2" y1="565.3" x2="210.8" y2="544.9" stroke="#c9bfbf" stroke-width="5.4"/><line x1="210.8" y1="565.3" x2="210.3" y2="544.9" stroke="#efe7e7" stroke-width="4.54"/><line x1="210.1" y1="565.3" x2="209.7" y2="544.9" stroke="#ffffff" stroke-width="1.35"/><line x1="210.8" y1="544.9" x2="210.3" y2="524.5" stroke="#b5d9b5" stroke-width="5.4"/><line x1="210.3" y1="544.9" x2="209.9" y2="524.5" stroke="#d9f0d9" stroke-width="4.54"/><line x1="209.7" y1="544.9" x2="209.2" y2="524.5" stroke="#f4fff4" stroke-width="1.35"/><line x1="95.0" y1="732.5" x2="90.2" y2="741.5" stroke="#34689a" stroke-width="5.8"/><line x1="94.6" y1="732.3" x2="89.8" y2="741.3" stroke="#4b8cc6" stroke-width="4.87"/><line x1="94.0" y1="732.0" x2="89.2" y2="741.0" stroke="#7db3e0" stroke-width="1.45"/><line x1="90.2" y1="741.5" x2="85.5" y2="750.5" stroke="#c92e30" stroke-width="5.8"/><line x1="89.8" y1="741.3" x2="85.1" y2="750.3" stroke="#e84446" stroke-width="4.87"/><line x1="89.2" y1="741.0" x2="84.5" y2="750.0" stroke="#f57c7c" stroke-width="1.45"/><line x1="205.5" y1="732.5" x2="200.8" y2="741.5" stroke="#34689a" stroke-width="5.8"/><line x1="205.1" y1="732.3" x2="200.4" y2="741.3" stroke="#4b8cc6" stroke-width="4.87"/><line x1="204.5" y1="732.0" x2="199.8" y2="741.0" stroke="#7db3e0" stroke-width="1.45"/><line x1="200.8" y1="741.5" x2="196.1" y2="750.5" stroke="#c92e30" stroke-width="5.8"/><line x1="200.4" y1="741.3" x2="195.7" y2="750.3" stroke="#e84446" stroke-width="4.87"/><line x1="199.8" y1="741.0" x2="195.1" y2="750.0" stroke="#f57c7c" stroke-width="1.45"/>
<line x1="92" y1="566" x2="96.5" y2="566.5" stroke="#4d4545" stroke-width="4.5" stroke-linecap="round"/><line x1="108" y1="564.5" x2="115" y2="564.5" stroke="#4d4545" stroke-width="4.5" stroke-linecap="round"/><line x1="204" y1="567" x2="208" y2="567" stroke="#4d4545" stroke-width="4.5" stroke-linecap="round"/><line x1="219" y1="565" x2="226" y2="565" stroke="#4d4545" stroke-width="4.5" stroke-linecap="round"/><line x1="92" y1="620.5" x2="95" y2="620.5" stroke="#eeeeee" stroke-width="4.5" stroke-linecap="round"/><line x1="88.5" y1="679" x2="94" y2="679.5" stroke="#1f3f5e" stroke-width="4.5" stroke-linecap="round"/><line x1="107" y1="674" x2="114.5" y2="672.5" stroke="#1f3f5e" stroke-width="4.5" stroke-linecap="round"/><line x1="199" y1="680" x2="204" y2="679" stroke="#1f3f5e" stroke-width="4.5" stroke-linecap="round"/><line x1="217" y1="674" x2="225" y2="672.5" stroke="#1f3f5e" stroke-width="4.5" stroke-linecap="round"/><line x1="89" y1="741" x2="93" y2="745" stroke="#1f3f5e" stroke-width="4.5" stroke-linecap="round"/><line x1="139" y1="735" x2="144" y2="737" stroke="#1f3f5e" stroke-width="4.5" stroke-linecap="round"/><line x1="200" y1="740" x2="203" y2="744" stroke="#1f3f5e" stroke-width="4.5" stroke-linecap="round"/><line x1="255" y1="734" x2="251" y2="737" stroke="#1f3f5e" stroke-width="4.5" stroke-linecap="round"/><line x1="270" y1="730" x2="275" y2="729" stroke="#1f3f5e" stroke-width="4.5" stroke-linecap="round"/><line x1="48" y1="730" x2="53" y2="728.5" stroke="#5a3030" stroke-width="4.5" stroke-linecap="round"/><line x1="55" y1="620" x2="60" y2="619.5" stroke="#5a3030" stroke-width="4.5" stroke-linecap="round"/>
<circle cx="78.0" cy="564.9" r="6.6" fill="url(#gO)"/><circle cx="121.0" cy="564.0" r="6.6" fill="url(#gO)"/><circle cx="188.5" cy="566.2" r="6.6" fill="url(#gO)"/><circle cx="232.1" cy="564.7" r="6.6" fill="url(#gO)"/><circle cx="156.0" cy="544.8" r="6.6" fill="url(#gO)"/><circle cx="267.2" cy="544.4" r="6.6" fill="url(#gO)"/><circle cx="102.6" cy="600.8" r="6.6" fill="url(#gO)"/><ellipse cx="154.2" cy="586.8" rx="6.9" ry="8.6" fill="url(#gO)"/><circle cx="213.1" cy="600.4" r="6.6" fill="url(#gO)"/><ellipse cx="265.3" cy="587.1" rx="6.9" ry="8.6" fill="url(#gO)"/><circle cx="65.8" cy="619.2" r="6.6" fill="url(#gO)"/><circle cx="133.2" cy="621.9" r="6.6" fill="url(#gO)"/><circle cx="176.1" cy="619.4" r="6.6" fill="url(#gO)"/><circle cx="243.5" cy="622.2" r="6.6" fill="url(#gO)"/><circle cx="96.0" cy="642.3" r="6.6" fill="url(#gO)"/><circle cx="158.6" cy="654.7" r="6.6" fill="url(#gO)"/><circle cx="206.5" cy="643.3" r="6.6" fill="url(#gO)"/><circle cx="270.1" cy="653.7" r="6.6" fill="url(#gO)"/><circle cx="78.0" cy="683.1" r="6.6" fill="url(#gO)"/><circle cx="119.7" cy="670.8" r="6.6" fill="url(#gO)"/><circle cx="188.5" cy="683.1" r="6.6" fill="url(#gO)"/><circle cx="231.2" cy="670.8" r="6.6" fill="url(#gO)"/><circle cx="102.6" cy="712.5" r="6.6" fill="url(#gO)"/><ellipse cx="148.2" cy="696.4" rx="6.9" ry="8.6" fill="url(#gO)"/><circle cx="214.1" cy="712.5" r="6.6" fill="url(#gO)"/><ellipse cx="258.7" cy="696.4" rx="6.9" ry="8.6" fill="url(#gO)"/><circle cx="59.0" cy="725.8" r="6.6" fill="url(#gO)"/><circle cx="129.2" cy="740.1" r="6.6" fill="url(#gO)"/><circle cx="169.5" cy="725.8" r="6.6" fill="url(#gO)"/><circle cx="240.6" cy="740.1" r="6.6" fill="url(#gO)"/><circle cx="85.5" cy="750.5" r="6.6" fill="url(#gO)"/><circle cx="196.1" cy="750.5" r="6.6" fill="url(#gO)"/><circle cx="99.1" cy="564.5" r="9.5" fill="url(#gIr)"/><circle cx="156.0" cy="564.0" r="9.5" fill="url(#gIr)"/><circle cx="211.2" cy="565.3" r="9.5" fill="url(#gIr)"/><circle cx="267.2" cy="563.4" r="9.5" fill="url(#gIr)"/><circle cx="100.8" cy="620.1" r="9.5" fill="url(#gIr)"/><circle cx="155.1" cy="619.2" r="9.5" fill="url(#gIr)"/><circle cx="211.2" cy="620.3" r="9.5" fill="url(#gIr)"/><circle cx="269.1" cy="619.4" r="9.5" fill="url(#gIr)"/><circle cx="98.8" cy="676.5" r="10.2" fill="url(#gPt)"/><circle cx="154.8" cy="676.5" r="10.2" fill="url(#gPt)"/><circle cx="209.3" cy="676.5" r="10.2" fill="url(#gPt)"/><circle cx="265.3" cy="675.5" r="10.2" fill="url(#gPt)"/><circle cx="95.0" cy="732.5" r="10.2" fill="url(#gPt)"/><circle cx="150.1" cy="733.4" r="10.2" fill="url(#gPt)"/><circle cx="205.5" cy="732.5" r="10.2" fill="url(#gPt)"/><circle cx="261.5" cy="733.4" r="10.2" fill="url(#gPt)"/><circle cx="210.3" cy="524.5" r="6.8" fill="url(#gCl)"/>
<text x="70.7" y="594.0" font-size="13.6" text-anchor="start" fill="#111" >Ir</text>
<text x="185.6" y="550.0" font-size="13.6" text-anchor="start" fill="#111" >Cl</text>
<text x="68.5" y="668.0" font-size="13.6" text-anchor="start" fill="#111" >O</text>
<text x="67.5" y="708.0" font-size="13.6" text-anchor="start" fill="#111" >Pt</text>
<line x1="81.5" y1="585" x2="88.9" y2="575.4" stroke="#000" stroke-width="1.6" marker-end="url(#arr)"/>
<line x1="197" y1="537.8" x2="204.6" y2="528.3" stroke="#000" stroke-width="1.6" marker-end="url(#arr)"/>
<line x1="80.8" y1="656.6" x2="86.5" y2="648" stroke="#000" stroke-width="1.6" marker-end="url(#arr)"/>
<line x1="84.6" y1="697.4" x2="90.9" y2="688.8" stroke="#000" stroke-width="1.6" marker-end="url(#arr)"/>
<text x="0.0" y="538.8" font-size="20" font-weight="bold" text-anchor="start" fill="#000" >e</text>
</svg>
</body></html>
